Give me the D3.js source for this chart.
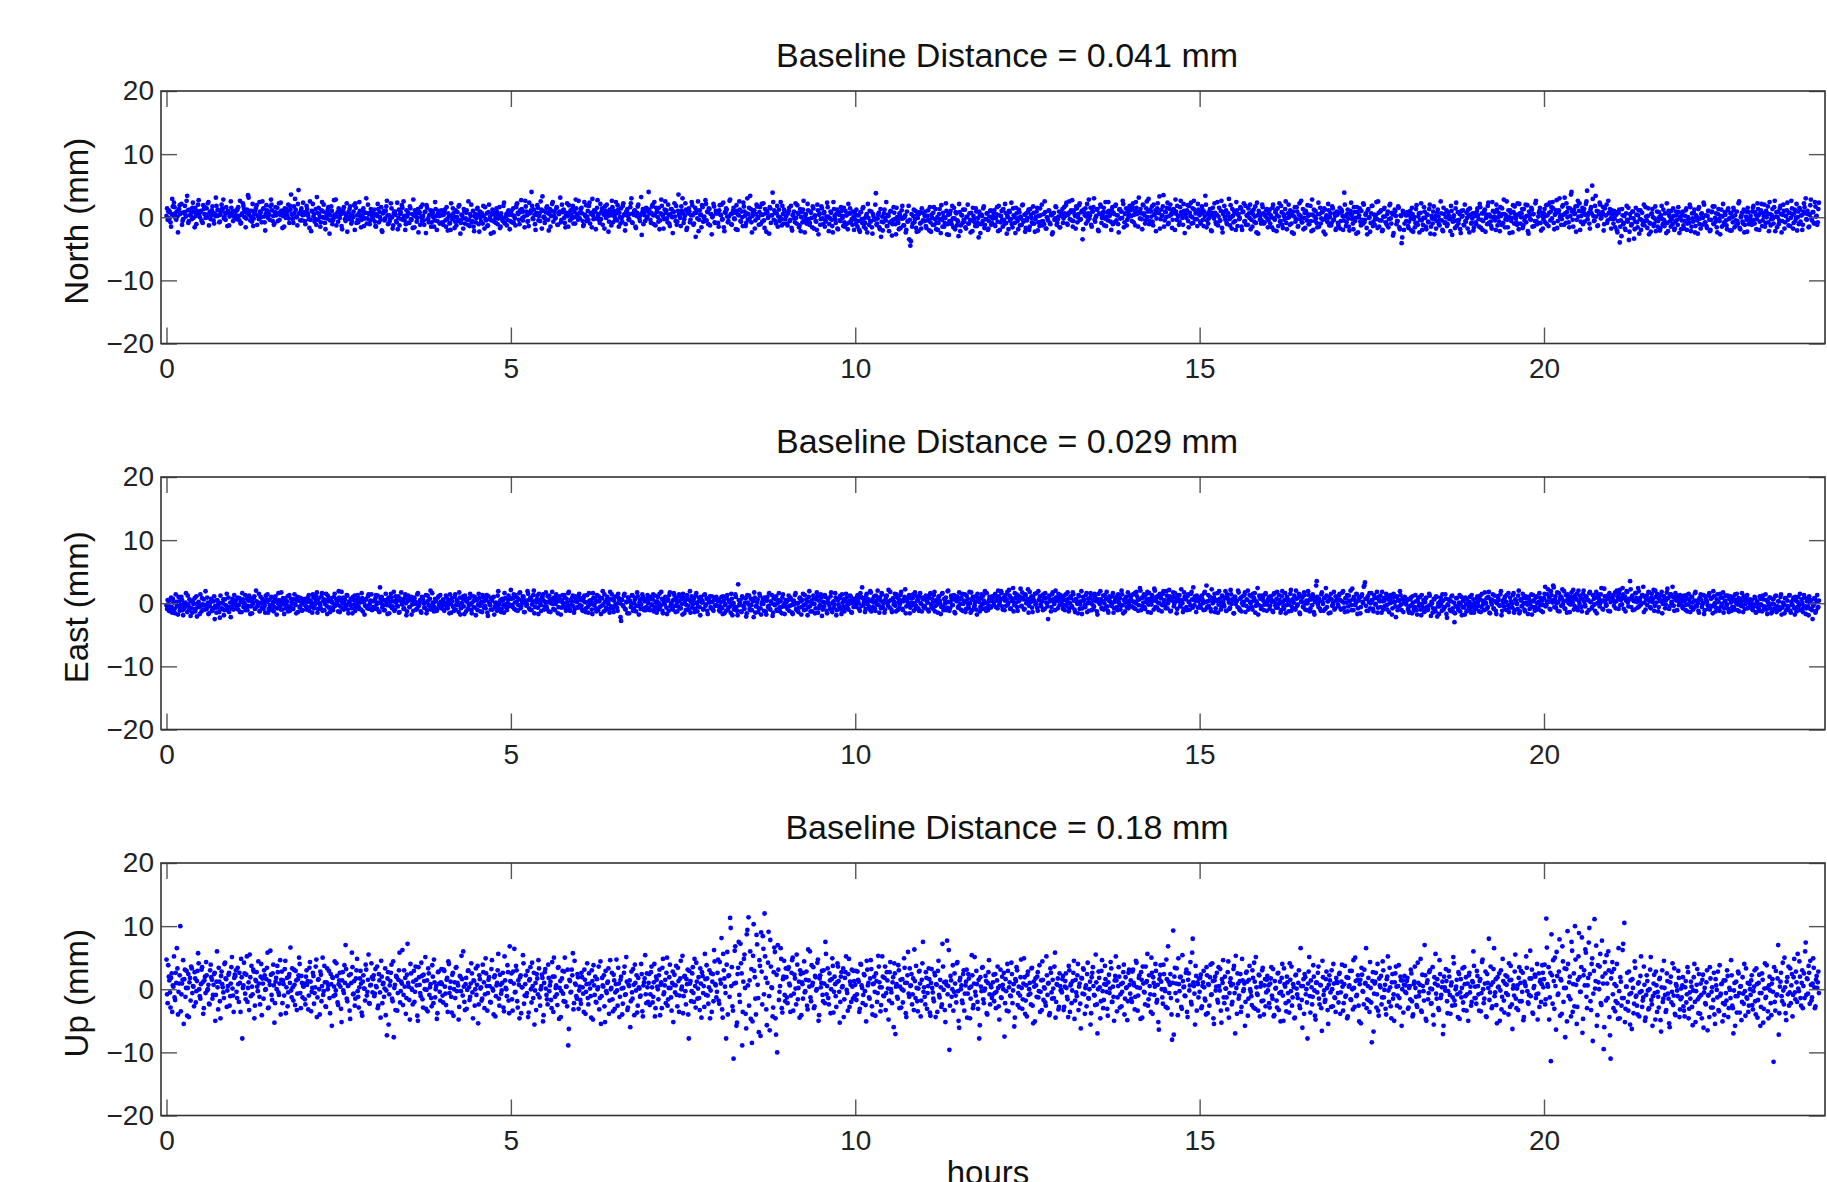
<!DOCTYPE html>
<html>
<head>
<meta charset="utf-8">
<script src="https://cdn.jsdelivr.net/npm/d3@7"></script>
<style>
body { margin: 0; background: #fff; }
svg { display: block; }
text { font-family: "Liberation Sans", Arial, Helvetica, sans-serif; }
</style>
</head>
<body>
<svg></svg>
<script>
// one row per hour, samples on the full minute, values in mm
const northMm = [
[0.2,-0.4,1.1,0.8,-1.5,2.9,0.3,1.6,-0.2,0.9,-2.4,1.3,0.5,2.1,-0.6,0.7,1.8,0.1,3.4,-0.9,1.2,0.4,-0.3,2.3,0.8,1.5,-1.1,0.6,2.7,0.0,1.0,-0.7,1.9,0.5,-0.1,1.4,2.2,-1.3,0.9,0.3,1.7,-0.5,0.6,3.1,0.2,1.1,-0.8,0.4,2.0,1.3,-0.2,0.7,1.6,-1.4,0.8,0.1,2.5,0.5,-0.6,1.0],
[0.9,-0.3,1.4,0.2,2.6,-0.9,0.6,1.8,0.0,-1.6,1.2,3.5,0.4,-0.5,1.0,2.1,-0.2,0.8,1.5,-1.2,0.3,2.4,0.7,-0.8,1.3,0.1,-2.1,1.9,0.5,0.9,-0.4,2.8,1.1,0.2,-1.0,1.6,0.6,-0.6,2.2,0.4,1.0,-1.7,0.8,1.4,-0.1,0.3,2.0,-0.9,1.2,0.5,-0.3,1.7,2.9,0.1,-1.3,4.3,0.6,1.0,-0.5,2.3],
[0.4,-1.1,1.8,0.6,-0.3,2.5,-2.2,0.9,0.1,-0.7,1.3,3.2,-0.4,0.5,-1.5,1.1,0.0,2.0,-0.9,0.7,-0.2,1.6,-2.6,0.3,1.0,-0.5,2.7,0.2,-1.3,0.8,1.4,-0.1,0.5,-1.9,1.2,0.6,-0.6,2.2,0.0,-0.3,1.7,-1.0,0.4,0.9,-2.0,1.5,0.3,-0.8,2.4,0.1,-0.4,1.0,-1.4,0.7,3.0,-0.2,0.6,-1.1,1.3,0.2],
[-0.3,1.2,-1.4,0.5,2.1,-0.8,0.0,1.6,-2.3,0.7,-0.5,1.0,2.6,-1.1,0.3,-0.2,1.4,-1.8,0.6,0.9,-0.6,2.3,-0.1,-1.3,0.8,1.9,-0.4,0.2,-2.0,1.1,0.4,-0.9,1.7,-0.3,0.5,2.8,-1.6,0.1,-0.7,1.3,0.6,-1.2,0.0,2.0,-0.5,0.8,-2.5,1.5,-0.2,0.3,1.1,-0.8,0.7,-1.5,2.4,0.2,-0.6,1.0,-1.0,0.4],
[0.3,-1.2,0.8,-0.5,1.6,-2.1,0.1,-0.9,2.2,-0.3,0.6,-1.7,1.1,0.0,-0.6,1.9,-2.6,0.4,-0.2,1.3,-1.0,0.7,-0.4,2.5,-1.4,0.2,-0.8,1.0,-2.2,0.5,-0.1,1.5,-1.1,0.9,-0.7,0.3,1.8,-1.8,-0.3,0.6,-1.3,2.0,0.1,-0.5,1.2,-2.4,0.4,-0.9,0.8,-0.2,1.6,-1.5,0.0,-0.6,2.3,-1.0,0.5,-0.4,1.1,-1.9],
[0.5,-0.8,1.4,0.2,-1.3,2.0,0.7,-0.4,1.1,2.7,-0.1,0.9,-1.6,1.7,0.3,-0.6,2.3,0.8,4.0,-0.2,1.2,-1.1,0.4,1.9,-0.5,0.6,2.5,-1.8,1.0,0.1,-0.3,1.5,0.7,-2.1,1.3,0.2,2.1,-0.7,0.9,-0.1,1.6,-1.2,0.5,3.1,-0.4,0.8,1.2,-0.9,0.3,2.2,-1.5,0.6,1.1,-0.2,1.8,0.0,-1.0,1.4,0.4,2.6],
[-0.2,1.3,0.6,-1.4,2.4,0.1,-0.6,1.0,1.8,-1.0,0.5,2.9,-0.3,0.8,-1.9,1.5,0.2,-0.5,2.1,0.9,-1.2,0.4,1.7,-0.1,0.7,-2.3,1.2,0.3,2.6,-0.8,1.0,-0.4,0.6,1.9,-1.5,0.0,1.4,-0.7,2.2,0.5,-1.1,0.9,0.2,-0.3,1.6,3.0,-0.9,0.4,1.1,-1.7,0.7,2.0,-0.2,0.3,-2.8,1.3,0.8,-0.6,1.5,0.1],
[4.0,0.6,-0.9,1.7,0.3,2.4,-1.3,0.8,0.0,1.5,-0.5,2.8,0.4,-1.8,1.2,0.7,-0.2,2.0,-1.0,0.5,1.3,-2.5,0.9,0.1,1.8,-0.7,3.6,0.2,-1.4,1.0,0.6,-0.3,2.2,-2.0,0.8,1.4,-0.8,0.3,1.9,-1.2,0.7,-3.1,1.1,2.5,-0.4,0.4,-1.6,1.6,0.0,-0.6,2.1,0.9,-1.1,1.3,0.5,-2.7,0.2,1.7,-0.9,0.6],
[0.8,-1.5,1.9,0.3,-0.4,2.3,-2.2,0.7,1.2,-0.8,0.1,2.8,-1.1,0.6,1.5,-0.3,-1.9,1.0,0.4,2.5,-0.6,0.9,-1.4,1.7,0.2,-0.9,3.0,0.5,-0.2,1.3,-2.4,0.8,1.1,-0.5,2.0,0.0,-1.2,1.6,0.4,-0.7,2.2,-1.7,0.6,1.0,-0.1,-2.6,1.4,0.3,3.9,-0.4,0.7,-1.0,1.8,0.1,-0.6,2.4,-1.3,0.5,1.2,-0.3],
[0.2,-1.3,1.0,-0.6,1.8,-2.1,0.4,-0.2,2.2,-1.0,0.7,-1.6,1.3,0.0,-0.8,2.6,-2.4,0.5,-0.4,1.1,-1.2,0.9,-0.1,1.7,-1.8,0.3,-0.7,2.0,-2.7,0.6,-0.3,1.4,-1.1,0.8,-0.5,0.1,1.6,-2.2,-0.2,0.7,-1.4,2.4,0.2,-0.9,1.2,-1.9,0.4,-0.6,1.0,-0.1,1.5,-1.5,0.3,-1.0,2.1,-0.8,0.6,-0.3,0.9,-2.0],
[-0.4,1.2,-1.5,0.3,-2.3,0.8,-0.9,1.6,-0.2,-1.8,0.5,2.1,-1.2,-0.6,0.9,-2.6,0.1,-0.3,3.8,-1.0,0.4,-1.6,1.3,-0.7,-2.1,0.6,-0.1,2.4,-1.4,0.2,-0.8,1.0,-2.9,-0.4,0.7,-1.1,1.5,-0.5,-1.9,0.3,-0.2,1.8,-1.3,0.0,-2.4,0.9,-0.6,-3.5,-4.5,0.5,-1.0,1.2,-0.3,-1.7,0.4,-2.2,0.8,-0.9,1.4,-0.5],
[-0.6,0.9,-1.7,0.2,-0.4,1.6,-2.3,-0.1,0.7,-1.2,1.3,-0.8,-2.0,0.5,-0.3,1.9,-1.5,0.1,-0.9,2.2,-2.7,0.4,-0.6,1.0,-1.1,-0.2,1.5,-1.9,0.6,-0.5,-3.0,0.8,-1.3,0.3,1.2,-0.7,-1.6,0.0,2.0,-1.0,-0.4,0.7,-2.2,0.2,-0.8,1.4,-1.4,-0.1,0.9,-2.5,0.4,-0.6,1.7,-1.2,-0.3,0.6,-1.8,0.1,1.1,-0.9],
[-0.2,1.1,-1.4,0.5,-0.7,1.8,-2.0,0.2,-0.4,1.3,-1.1,0.7,-2.6,0.0,1.0,-0.6,2.3,-1.6,0.3,-0.9,1.5,-0.2,-1.9,0.8,0.1,-1.2,2.0,-0.5,-2.3,0.6,-0.1,1.2,-1.5,0.4,-0.8,1.7,-1.0,-0.3,0.9,-2.1,0.2,1.4,-0.7,-1.3,0.5,2.5,-1.8,0.0,-0.5,1.0,-1.1,0.3,-2.4,0.7,-0.2,1.6,-0.9,0.1,-1.6,0.8],
[0.4,-0.9,1.6,0.2,2.3,-1.2,0.7,-0.3,1.1,2.7,-0.6,0.5,-1.8,1.4,0.0,1.9,-0.4,0.8,-3.5,1.2,0.3,-1.0,2.1,0.6,-0.2,1.5,-1.5,0.9,3.0,-0.7,0.2,1.3,-2.2,0.5,1.7,-0.1,0.8,-1.3,2.4,0.1,-0.5,1.0,0.4,-2.0,1.6,0.7,-0.8,2.0,0.3,-1.1,1.2,-0.2,0.9,2.6,-1.6,0.5,1.4,-0.4,0.0,1.8],
[1.1,-0.6,2.2,0.4,-1.3,1.5,0.8,3.1,-0.2,0.6,-1.9,1.9,0.3,-0.5,2.5,0.9,-1.1,1.2,0.1,-0.7,2.0,0.5,-2.2,1.4,0.7,3.3,-0.3,0.2,1.7,-1.5,0.9,0.0,2.3,-0.9,1.3,0.4,-1.7,1.0,0.6,2.8,-0.4,0.3,-1.2,1.6,0.8,-0.1,2.1,-2.5,0.5,1.1,-0.6,1.8,0.2,-1.0,1.4,2.6,-0.3,0.7,-1.4,1.2],
[0.3,-1.0,1.7,-0.4,0.9,3.4,-1.6,0.5,-0.2,1.3,-2.1,0.7,0.1,2.2,-0.8,0.4,-1.3,1.5,-0.5,2.6,-2.4,0.8,0.0,1.1,-1.1,0.6,-0.3,1.9,-1.8,0.2,1.0,-0.6,2.4,-1.4,0.5,-0.1,1.4,-2.0,0.9,-0.7,1.8,0.3,-1.2,0.6,2.0,-0.4,-1.5,1.2,0.1,-0.9,2.3,-2.6,0.7,0.2,-0.5,1.6,-1.0,0.4,1.1,-0.2],
[-0.5,1.2,0.3,-1.6,2.0,-0.2,0.8,-2.2,1.4,0.1,-0.7,1.8,-1.2,0.5,-0.4,2.5,-1.9,0.6,0.0,1.1,-1.0,0.3,-2.6,1.6,-0.3,0.9,-1.4,2.2,0.2,-0.8,1.3,-0.1,-1.7,0.7,1.9,-1.1,0.4,-0.6,2.8,-2.0,0.1,1.0,-0.9,0.5,-1.5,1.5,-0.2,0.8,-2.3,1.2,0.0,-0.5,2.1,-1.3,0.6,-0.9,1.4,-0.4,0.2,-1.8],
[0.4,-1.3,1.5,-0.6,0.9,-2.0,3.9,0.2,-0.8,1.2,-1.5,0.5,2.3,-0.3,-1.9,0.8,-0.1,1.6,-2.4,0.3,-0.7,1.0,-1.1,2.0,-0.4,0.6,-2.7,1.3,0.0,-0.9,1.8,-1.4,0.4,-0.2,2.4,-1.7,0.7,-0.5,1.1,-2.2,0.1,1.5,-0.8,-1.2,0.9,-0.3,2.1,-1.0,0.5,-2.5,1.2,0.2,-0.6,1.7,-1.6,0.3,-4.1,1.0,-2.0,0.6],
[-0.6,0.8,-1.7,0.3,-0.2,1.5,-2.3,0.0,-0.9,1.9,-1.2,0.6,-0.4,2.2,-2.0,-0.1,0.9,-1.5,0.4,-0.7,1.3,-2.6,0.2,-1.0,1.7,-0.3,-1.8,0.7,0.1,-1.3,2.5,-0.5,-2.2,0.5,-0.8,1.1,-1.1,0.3,-0.2,1.8,-2.8,0.0,-0.6,1.4,-1.4,0.8,-0.4,-1.9,1.0,0.2,-1.2,2.0,-0.7,-0.1,1.2,-2.4,0.4,-0.9,0.6,-1.6],
[0.2,-1.1,1.4,-0.3,2.1,-1.7,0.6,-0.6,1.0,-2.3,0.4,1.8,-0.9,0.1,-1.4,2.4,-0.2,0.8,-2.0,1.2,0.0,-0.7,1.6,-1.2,0.5,2.8,-1.6,0.3,-0.4,1.1,-2.5,0.7,-0.1,1.9,-1.0,0.4,-0.8,2.2,-1.9,0.6,0.0,1.3,-1.3,-0.5,2.0,0.2,-2.2,0.9,-0.3,1.5,-1.5,0.5,-0.6,2.6,-1.1,0.1,1.0,-0.9,0.7,-1.8],
[0.6,-0.8,1.9,0.3,-1.4,2.3,0.9,-0.2,1.4,-1.9,0.5,2.7,-0.6,1.1,0.0,-1.2,1.7,0.4,3.1,-0.9,0.8,1.5,-1.6,0.2,4.0,-0.4,1.2,0.6,-2.3,1.8,0.1,2.2,-0.7,0.9,-1.1,1.3,0.4,2.5,-0.3,0.7,-1.8,1.6,5.0,0.2,-0.5,3.4,1.0,-1.3,0.5,2.0,-0.1,0.8,-2.1,1.4,0.3,-0.9,2.6,0.6,-0.2,1.1],
[-0.3,1.0,-1.6,0.4,-2.4,0.7,-4.0,-0.5,1.3,-1.1,0.2,-2.0,1.8,-0.7,-3.6,0.5,-1.3,0.9,-0.2,-1.9,1.5,-0.8,0.3,-2.6,1.1,-0.4,-1.2,2.0,-0.6,0.1,-1.7,1.4,-0.9,-2.3,0.6,0.0,-1.0,1.7,-0.5,-1.5,0.8,-2.1,0.3,-0.3,1.2,-1.4,-0.8,2.2,-2.2,0.4,-0.6,1.0,-1.1,0.2,-1.8,0.9,-0.4,1.6,-2.5,0.1],
[-0.5,0.9,-1.8,0.2,1.4,-1.0,-0.3,2.0,-2.2,0.6,-0.7,1.2,-1.4,0.0,-2.6,1.6,-0.2,0.5,-1.2,2.3,-0.9,0.3,-1.7,1.0,-0.4,-2.0,0.8,1.7,-1.1,-0.1,0.6,-2.4,1.3,-0.6,0.2,-1.5,2.1,-0.8,0.4,-1.3,1.1,-0.3,-2.1,0.7,0.0,1.5,-1.6,-0.5,0.9,-1.0,2.5,-1.9,0.3,-0.7,1.2,-1.2,0.1,-2.3,0.8,-0.4],
[0.2,-1.2,1.5,-0.4,0.8,-1.9,2.2,0.3,-0.7,1.1,-1.4,0.6,2.0,-0.9,0.0,1.7,-2.2,0.5,-0.3,1.3,-1.0,2.6,0.1,-1.6,0.9,-0.5,1.8,-2.4,0.4,1.0,-0.8,0.2,2.3,-1.3,0.7,-0.1,1.4,-1.8,0.6,-0.6,2.1,0.0,-1.1,1.2,0.3,-2.0,0.9,1.6,3.0,-0.4,0.5,-1.5,1.9,-0.2,0.8,-0.9,2.4,0.1,-1.2,1.3]
];

// samples on the half minute
const northMmHalf = [
[1.4,0.9,-0.2,-0.8,0.5,1.7,2.3,0.6,-0.4,0.1,1.2,1.9,0.7,-1.2,-0.3,0.8,0.4,2.6,1.1,-0.6,0.3,0.9,1.5,-0.1,-1.6,0.2,1.0,2.0,0.5,0.8,-0.5,-0.9,1.3,1.6,0.4,0.0,2.4,0.7,-0.3,1.1,0.6,-1.0,0.2,1.8,1.2,0.3,-0.7,0.9,1.4,2.8,0.1,-0.4,0.6,1.0,-1.3,0.5,1.5,0.8,0.2,-0.2],
[0.3,1.1,1.6,-0.5,-1.0,0.4,2.2,1.3,0.8,-0.2,0.6,3.1,1.0,0.1,-0.7,-1.4,0.5,1.2,1.9,0.2,-0.3,0.9,0.0,2.5,1.4,-0.8,0.6,1.1,-0.1,0.4,1.7,2.0,-0.6,-1.2,0.8,0.3,1.5,0.7,-0.4,2.3,1.0,0.2,-1.5,0.5,1.3,0.9,-0.2,1.8,3.6,0.4,-0.9,0.7,1.2,0.0,2.1,0.6,-0.5,1.4,0.3,0.8],
[-0.6,0.8,1.3,0.2,-1.7,-0.4,1.0,2.1,0.5,-0.3,-1.2,0.7,1.5,0.0,-0.8,2.4,0.9,-0.1,-1.9,0.3,1.2,0.6,-0.5,1.7,-1.1,-0.2,0.4,2.8,0.1,-0.7,1.1,0.5,-1.4,0.9,1.6,-0.3,0.2,-2.3,0.8,1.3,0.4,-0.6,0.0,1.9,2.2,-0.9,-0.4,0.6,1.0,-1.6,0.3,1.4,-0.2,0.7,-1.0,2.0,0.5,-0.5,0.9,0.1],
[0.5,-0.7,-1.5,0.2,1.3,0.8,-0.4,-2.1,0.6,1.0,-0.2,1.7,0.3,-1.0,-0.6,2.2,0.0,-1.3,0.9,0.4,-0.8,-1.9,1.2,0.5,-0.3,1.5,2.5,-0.5,-1.1,0.1,0.7,-0.9,1.4,-0.4,-1.7,0.3,1.1,0.6,-0.1,-2.4,0.8,1.6,-0.6,0.2,-1.2,0.9,1.9,-0.3,-0.8,0.4,-1.5,1.0,0.0,-0.5,1.3,-2.0,0.6,0.2,-0.9,1.1],
[-0.8,0.4,1.2,-1.5,-0.3,0.6,-1.0,-2.0,0.2,1.4,0.0,-0.7,-1.3,0.8,1.7,-0.5,-0.9,0.3,-1.8,0.9,-0.2,1.1,-1.2,-0.4,0.5,2.0,-0.6,-1.5,0.1,-0.8,1.3,0.4,-2.3,-0.1,0.7,-1.0,0.2,1.6,-0.5,-1.4,0.8,-0.3,-2.6,0.5,1.0,-0.7,-0.2,1.4,-1.1,0.3,-1.7,0.6,-0.4,1.8,-0.9,0.0,-1.3,0.9,0.4,-0.6],
[1.0,0.3,-0.9,-0.2,1.6,2.2,0.5,-1.1,0.8,1.3,-0.5,0.1,2.6,0.9,-0.7,-1.4,0.6,1.1,1.8,-0.3,0.4,-2.0,0.7,1.5,0.2,-0.6,1.2,3.3,0.0,-0.9,0.8,1.7,-0.4,0.5,-1.5,1.0,2.4,0.3,-0.2,1.4,-1.2,0.6,0.9,-0.8,2.0,1.1,-0.1,-1.6,0.7,0.2,1.9,-0.5,0.4,1.3,-1.0,0.8,2.8,0.1,-0.4,0.6],
[0.8,1.5,-0.6,-1.2,0.4,1.9,0.1,-0.4,2.3,0.7,-1.6,0.3,1.1,0.9,-0.2,2.7,0.5,-0.9,-0.3,1.4,0.6,-1.8,1.0,2.0,0.2,-0.7,0.8,-1.3,1.6,0.4,0.0,2.4,-0.5,1.2,0.7,-1.0,-0.1,1.8,0.3,-2.1,0.9,1.3,-0.4,0.5,2.2,-0.8,0.6,1.0,-1.5,0.2,1.7,0.4,-0.6,3.2,0.8,-1.1,0.3,1.4,-0.2,0.9],
[1.2,-0.4,0.7,2.0,-1.1,0.3,1.5,0.9,-0.7,-1.9,0.6,1.8,0.2,-0.3,2.5,1.1,-0.8,0.4,-1.4,1.3,0.0,0.8,2.2,-0.6,-1.2,1.0,0.5,-0.1,1.7,3.0,-0.9,0.2,1.2,-1.7,0.6,0.9,-0.4,2.4,0.3,-1.0,1.5,0.7,-0.2,-2.2,1.1,0.4,1.9,-0.7,0.1,2.7,-0.5,0.8,1.4,-1.3,0.5,0.0,2.1,-0.8,1.0,0.6],
[-0.9,1.1,0.4,2.0,-0.3,-1.6,0.8,1.4,0.1,-0.6,2.6,0.5,-1.2,1.0,-0.2,0.7,1.9,-2.0,0.3,1.2,-0.7,0.0,2.3,0.9,-1.4,0.6,-0.4,1.5,3.4,-0.8,0.2,1.0,-1.8,0.5,1.7,-0.1,0.8,-1.1,2.1,0.4,-0.5,1.3,-2.3,0.7,0.1,1.6,-0.9,0.3,2.4,1.1,-0.6,0.6,-1.5,1.2,0.0,-0.3,1.8,-1.0,0.9,0.2],
[-1.0,0.6,1.5,-0.4,-1.7,0.3,0.9,-0.8,-0.1,1.9,0.5,-1.3,-2.2,0.8,1.2,-0.5,0.2,-1.0,2.1,-0.3,-0.9,0.7,-1.6,1.4,0.0,-0.6,-2.0,1.1,0.4,-1.2,1.7,-0.2,0.6,-1.5,-0.7,2.3,0.1,-1.1,0.9,-0.4,-2.4,1.3,-0.3,0.5,-1.8,0.8,-0.5,1.6,0.2,-1.4,-0.8,1.0,0.3,-1.9,0.6,1.4,-0.6,-1.2,0.0,0.7],
[-1.1,0.3,-0.6,-2.0,0.8,-0.3,1.4,-1.5,-0.9,0.2,-2.4,-0.1,1.0,-0.7,-1.6,0.5,-0.4,2.0,-1.2,-0.2,0.7,-1.9,-3.1,0.1,-0.8,1.2,-0.5,-1.4,0.4,-2.2,0.9,-0.6,-1.1,1.6,-0.3,-2.7,0.0,-0.9,0.6,-1.7,1.1,-0.2,-1.3,0.3,-2.0,-0.7,1.8,-0.4,-3.8,-1.5,0.2,-0.8,1.0,-2.3,-0.1,0.5,-1.0,-1.8,0.7,-0.6],
[0.2,-1.4,-0.5,1.1,-2.1,-0.8,0.4,-1.2,1.6,-0.3,-1.9,0.0,-0.9,1.3,-2.5,-0.4,0.7,-1.5,-0.1,1.0,-1.1,-2.8,0.5,-0.6,1.8,-1.6,-0.2,0.8,-1.3,-0.7,2.1,-2.2,0.3,-0.9,-0.4,1.2,-1.8,0.1,-1.0,0.6,-2.4,-0.5,1.5,-0.2,-1.4,0.9,-0.8,-3.2,0.4,-1.1,0.2,1.4,-1.7,-0.3,0.6,-2.0,-0.6,1.0,-1.2,0.0],
[0.5,-1.2,-0.1,1.6,-2.2,0.3,-0.8,1.0,-1.5,-0.4,2.1,-0.9,0.2,-1.9,0.8,-0.3,-1.1,1.4,0.0,-2.5,0.6,-0.6,1.2,-1.3,-0.2,1.9,-0.7,0.4,-1.7,-0.5,0.9,-2.0,1.3,-0.1,-1.0,0.7,-2.3,0.1,1.5,-0.8,-1.4,0.3,2.0,-0.6,-1.1,0.8,-1.8,-0.2,1.1,-0.9,0.4,-2.7,0.6,-0.4,1.7,-1.2,-0.3,0.9,-1.6,0.2],
[1.3,-0.2,0.6,1.9,-1.0,0.4,2.5,0.8,-0.5,-1.5,1.1,0.2,1.7,-0.8,0.5,2.2,-0.3,1.0,-1.9,0.7,1.4,0.1,-0.6,2.8,0.3,-1.2,0.9,1.6,-0.4,0.0,1.2,-2.0,0.6,2.0,-0.9,0.4,1.5,-0.2,-1.4,0.8,2.4,0.2,-0.7,1.1,-1.1,0.5,1.8,-0.5,0.3,-2.4,1.3,0.9,-0.1,2.1,-0.8,0.6,-1.3,1.0,0.4,1.6],
[0.2,1.6,-0.8,1.0,2.4,0.5,-1.5,0.8,1.3,-0.3,2.0,0.6,-1.0,1.4,0.0,2.9,-0.6,0.9,1.7,-1.3,0.4,1.1,-0.2,2.2,0.7,-1.8,1.2,0.3,3.5,-0.5,0.8,1.5,-1.1,0.2,2.0,0.6,-0.4,1.3,-2.0,0.9,1.8,0.1,-0.7,2.6,0.5,-1.2,1.0,0.4,-0.1,1.9,-1.6,0.7,2.3,0.0,-0.9,1.2,0.6,-0.3,2.1,0.8],
[-0.7,0.6,1.2,-1.4,0.2,2.0,-0.5,-1.0,0.9,0.3,-2.2,1.5,-0.2,0.7,-1.1,2.4,0.1,-0.6,1.0,-1.7,0.5,1.8,-0.4,-0.9,0.3,2.9,-1.3,0.0,1.3,-0.8,0.6,-2.0,1.1,0.4,-0.3,1.6,-1.5,0.8,2.2,-0.6,-1.2,0.2,1.4,-0.1,-1.9,0.9,0.5,-0.7,1.7,-2.4,0.3,1.0,-0.4,-1.0,2.0,0.6,-0.8,0.1,1.3,-1.6],
[0.6,-1.0,0.0,1.5,-2.0,-0.4,1.1,0.3,-1.4,2.2,-0.6,0.8,-1.7,0.2,1.3,-0.9,-0.1,2.0,-1.2,0.5,-2.4,0.9,0.1,-0.7,1.6,-1.5,0.4,-0.3,2.6,-0.8,-1.9,0.7,1.0,-0.5,0.2,-1.1,1.8,-2.2,0.4,1.2,-0.6,-0.2,-1.6,2.3,0.5,-1.0,0.8,-0.4,1.4,-2.7,0.3,-0.8,1.1,0.0,-1.3,1.7,-0.5,0.6,-2.0,0.9],
[-0.9,0.7,-1.8,1.2,0.2,-0.5,2.0,-1.4,0.5,-0.2,-2.1,1.0,0.3,-1.0,1.6,-0.6,-2.6,0.8,0.0,1.4,-1.3,-0.4,2.2,-0.8,0.4,-1.7,1.1,-0.1,-2.3,0.6,1.8,-0.7,-1.2,0.3,-0.3,2.5,-1.5,0.9,-0.5,-2.0,1.3,0.1,-0.9,0.5,-1.6,1.9,-0.2,0.7,-2.9,0.4,1.0,-1.1,-0.6,1.5,-1.9,0.2,-3.2,0.8,-1.0,0.3],
[0.3,-1.4,-0.7,1.0,-2.1,0.5,-0.3,-1.6,1.3,-0.9,0.1,-2.4,0.7,-0.5,-1.2,1.6,-0.1,-1.9,0.4,-0.8,2.0,-1.5,-0.2,0.9,-2.7,0.2,-0.6,1.2,-1.1,-0.4,0.6,-2.0,1.5,-0.9,0.0,-1.4,0.8,-0.3,-2.2,1.0,-0.7,0.3,-1.7,2.3,-0.5,-1.0,0.5,-2.5,0.1,1.1,-1.3,-0.6,0.7,-1.8,0.2,1.4,-1.0,-0.2,-2.1,0.6],
[-0.8,0.9,0.3,-1.5,1.6,-0.4,-2.0,0.6,1.2,-0.1,-1.1,2.3,0.4,-0.7,-1.8,1.0,0.1,-0.5,2.0,-1.3,0.7,-2.2,0.2,1.4,-0.9,0.5,-0.3,2.5,-1.6,0.0,1.1,-0.6,-2.4,0.8,1.7,-0.2,-1.2,0.4,2.1,-1.0,0.6,-1.7,1.3,0.0,-0.8,1.9,-2.6,0.3,-0.4,1.2,0.5,-1.4,2.2,-0.6,-1.0,0.7,1.5,-2.1,0.2,-0.3],
[1.3,0.2,-1.1,2.0,0.7,-0.5,1.6,2.4,-0.9,0.4,1.1,-1.7,0.8,3.0,0.3,-0.3,1.9,-1.2,0.6,2.2,0.0,-0.8,1.4,3.6,0.9,-1.5,0.5,1.7,-0.4,2.6,1.0,-2.0,0.2,1.5,0.8,-0.7,2.1,4.2,0.4,-1.0,1.2,0.6,2.9,-0.6,1.8,0.1,-1.4,0.9,2.3,-0.2,0.5,1.6,-1.1,0.3,2.0,-0.5,0.7,1.3,-1.8,0.4],
[-1.0,-0.2,0.8,-2.1,-0.6,1.2,-1.5,-3.0,0.3,-0.9,-1.8,0.6,-0.4,1.5,-2.3,-0.1,-1.1,0.9,-3.4,-0.7,0.4,-1.6,1.1,-0.3,-2.0,0.7,-0.8,-1.3,1.6,-0.5,0.2,-2.7,-1.0,0.5,1.3,-1.4,-0.2,-2.2,0.9,-0.6,0.0,-1.7,1.8,-1.1,-0.4,0.6,-2.5,-0.9,1.0,0.1,-1.5,-0.3,1.4,-2.0,-0.7,0.3,-1.2,0.8,-0.1,-1.9],
[0.4,-1.3,-0.6,1.1,-2.0,0.0,-0.9,1.6,-1.5,-0.2,0.7,-2.4,0.3,-0.5,1.3,-1.1,-1.8,0.6,-0.1,2.0,-0.8,-1.4,0.2,1.0,-2.2,-0.4,0.9,-1.0,1.7,-0.7,-1.6,0.5,-0.3,-2.7,1.2,0.1,-1.2,0.8,-0.5,-1.9,1.4,-0.2,0.6,-2.1,-0.8,1.1,0.3,-1.3,-0.6,2.2,-1.7,0.0,0.7,-1.0,-2.4,0.9,-0.4,1.5,-1.1,-0.2],
[-0.6,0.9,1.8,-1.0,0.4,-0.3,1.3,-2.0,0.7,2.1,-0.5,0.1,-1.5,1.0,0.6,-0.8,2.4,-1.3,0.3,-0.2,1.6,-2.2,0.8,0.0,-1.1,1.4,0.5,-0.6,2.0,-1.8,0.2,1.1,-0.4,0.7,-1.4,2.6,0.4,-0.9,1.2,-0.1,-2.1,0.9,1.5,-0.7,0.3,-1.2,2.2,0.6,-0.3,1.0,-1.6,0.4,2.8,-0.5,0.8,-1.0,1.7,0.2,-0.8,2.3]
];

const eastMm = [
[-0.3,0.5,-1.2,-0.6,0.9,-1.5,0.1,-0.9,1.4,-0.4,-1.8,0.3,-0.7,1.0,-1.1,0.0,-0.5,1.6,-1.4,-0.2,0.6,-2.0,-0.8,0.4,-0.1,-1.3,1.1,-0.6,0.2,-1.7,-0.4,0.8,-1.0,-0.3,1.9,-0.9,0.1,-1.6,-0.5,0.7,-1.2,0.3,-2.5,-0.7,0.5,-0.2,-1.4,1.2,-0.8,0.0,-1.9,0.6,-0.4,-1.1,0.9,-0.6,-2.2,0.2,-0.3,1.3],
[0.2,-0.8,0.9,-0.3,-1.4,0.5,1.6,-0.6,0.0,-1.1,0.7,-0.4,1.2,-1.7,0.3,-0.2,0.8,-0.9,2.0,-0.5,0.1,-1.3,1.0,-0.7,0.4,-0.1,-1.5,0.6,1.4,-0.9,-0.3,0.9,-1.1,0.2,-0.6,1.1,-1.8,0.0,0.5,-0.4,1.7,-1.0,-0.2,0.7,-0.8,0.3,-1.3,1.3,-0.5,0.1,-0.9,0.6,-0.1,-1.6,1.0,0.4,-0.7,0.8,-1.2,0.2],
[-0.2,0.7,-1.0,0.4,1.3,-0.6,0.1,-1.5,0.9,-0.3,0.5,1.7,-0.9,0.0,-0.4,1.1,-1.2,0.6,-0.1,1.5,-1.7,0.3,0.8,-0.7,0.2,-1.1,1.0,-0.4,0.6,-0.2,1.9,-1.4,0.4,-0.8,0.9,0.0,-0.5,1.3,-1.0,0.2,-0.3,0.7,-1.6,0.5,1.2,-0.6,-0.1,0.8,-0.9,0.3,1.6,-1.3,0.1,-0.4,0.6,-0.8,1.4,-0.2,0.4,-1.1],
[0.3,-0.9,0.8,-0.2,1.2,-1.3,2.5,0.0,-0.7,0.5,-1.1,1.5,-0.3,0.6,-1.6,0.2,0.9,-0.5,1.8,-1.0,0.1,-0.4,1.1,-1.4,0.7,-0.1,0.4,-0.8,1.4,-1.9,0.3,0.6,-0.6,1.0,-0.2,-1.2,0.8,0.2,-0.9,1.6,-0.3,0.5,-1.5,0.9,0.0,-0.7,1.3,-1.1,0.4,-0.4,2.0,-0.6,0.1,-1.3,0.7,0.3,-0.9,1.1,-0.5,0.2],
[-0.4,0.6,-1.2,0.1,0.9,-0.8,-0.2,1.4,-1.5,0.3,-0.6,1.0,-1.0,0.5,-0.3,1.7,-1.8,0.0,0.7,-0.5,1.2,-1.3,0.2,-0.9,0.8,-0.1,-1.6,1.1,0.4,-0.7,0.6,-1.1,1.5,-0.4,0.0,-1.4,0.9,0.3,-0.8,1.3,-2.0,0.2,-0.3,0.7,-1.0,1.0,-0.6,0.1,-1.2,1.9,-0.2,0.5,-0.9,0.4,-1.5,0.8,-0.1,-0.6,1.2,-0.4],
[2.1,-0.3,0.8,-0.9,1.3,0.2,-1.2,0.6,1.7,-0.5,0.0,1.0,-1.4,0.4,-0.2,1.5,-0.8,0.9,-1.1,0.3,2.0,-0.6,0.1,1.2,-1.7,0.5,-0.3,0.8,1.4,-1.0,0.2,-0.5,1.1,-1.3,0.7,0.0,1.8,-0.9,0.4,-0.1,1.0,-1.6,0.6,0.3,-0.7,1.3,-0.4,0.9,-1.2,0.1,1.6,-0.8,0.5,-0.2,1.2,-1.5,0.3,0.7,-0.6,1.0],
[-0.3,0.8,-1.0,0.4,1.2,-1.4,0.1,-0.6,1.6,-0.2,0.5,-1.7,0.9,0.0,-0.8,1.3,-1.1,0.3,0.7,-0.4,1.9,-1.3,0.2,-0.7,1.0,-0.1,-1.5,0.6,1.4,-0.9,0.4,-0.3,1.1,-1.2,0.8,0.0,-2.8,0.5,-0.5,1.5,-1.0,0.2,0.9,-1.6,0.3,-0.2,1.2,-0.8,0.6,-1.3,1.7,-0.4,0.1,-0.9,0.7,1.0,-1.1,0.4,-0.6,1.3],
[0.5,-1.1,0.7,-0.3,1.4,-0.9,0.2,-1.5,1.0,0.0,-0.6,1.8,-1.2,0.4,-0.2,0.9,-1.7,0.6,1.3,-0.5,0.1,-1.0,1.6,-0.4,0.8,-1.3,0.3,1.1,-0.8,-0.1,1.5,-1.6,0.5,-0.3,0.7,-1.1,1.9,0.2,-0.7,0.4,-1.4,1.2,0.0,-0.5,0.9,-1.9,0.6,0.3,-0.9,1.4,-0.2,-1.2,0.8,0.1,-0.6,1.1,-1.0,0.5,-0.4,1.0],
[-0.4,0.6,-1.3,0.2,-0.8,1.1,-1.6,-0.1,0.8,-1.0,0.4,-0.5,1.5,-1.9,0.0,-0.7,1.0,-1.2,3.0,-0.3,0.5,-1.4,0.9,-0.6,0.1,-2.1,1.3,-0.2,-0.9,0.7,-1.1,0.3,1.7,-1.5,-0.4,0.6,-0.8,1.2,-1.8,0.2,-0.1,0.9,-1.3,0.4,-0.6,1.6,-1.0,0.0,-2.0,0.8,-0.3,1.1,-1.2,0.5,-0.7,0.3,-1.6,1.4,-0.5,0.1],
[0.1,-0.9,1.2,-0.4,0.6,-1.5,0.3,-0.2,1.6,-1.1,0.0,-0.7,0.9,-1.8,0.5,-0.3,1.3,-1.0,0.2,-0.6,1.9,-1.3,0.4,-0.1,0.8,-1.6,0.6,1.1,-0.8,-0.4,1.4,-2.0,0.2,-0.5,1.0,-1.2,0.7,0.0,-0.9,1.7,-1.4,0.3,-0.2,0.9,-1.1,0.5,-0.6,1.2,-1.7,0.1,0.6,-0.8,1.5,-0.3,-1.0,0.4,1.1,-1.5,0.0,0.7],
[0.4,-0.6,1.3,0.0,-1.2,1.0,2.5,-0.3,0.7,-0.9,1.5,0.2,-0.5,1.9,-1.3,0.6,0.1,-0.8,1.2,-0.2,0.9,-1.5,0.4,1.6,-0.6,0.3,-1.0,1.1,0.0,2.1,-0.7,0.5,-1.4,0.8,0.2,-0.4,1.4,-1.1,0.6,-0.1,1.8,-0.9,0.3,1.0,-1.6,0.5,-0.2,1.3,-0.7,0.1,0.8,-1.2,1.7,-0.4,0.4,-0.8,1.1,0.0,-1.3,0.9],
[0.6,-0.8,1.0,0.1,-1.3,1.4,-0.2,0.7,-0.9,1.8,-0.4,0.3,-1.5,1.1,0.0,-0.6,1.6,-1.1,0.5,0.9,-0.7,2.0,-1.2,0.2,0.8,-0.3,1.3,-1.6,0.4,1.0,-0.5,0.6,-1.0,1.5,-0.1,0.3,-1.4,1.2,0.7,-0.8,0.0,1.7,-1.1,0.5,-0.3,1.1,-1.8,0.8,0.2,-0.6,1.4,-0.9,0.4,1.9,-1.2,0.1,-0.4,1.0,-0.7,0.6],
[0.9,-0.3,1.5,0.4,-0.8,1.1,0.2,1.9,-0.5,0.7,-1.1,1.3,0.6,-0.2,2.1,-0.9,0.8,0.3,-1.3,1.6,0.1,-0.6,1.2,0.5,2.3,-0.4,0.9,-1.0,1.4,0.0,0.7,-1.5,1.8,0.2,-0.7,1.0,0.4,-0.2,1.6,-1.2,0.6,1.1,-0.5,0.3,1.4,-0.9,0.8,0.0,-2.5,1.2,0.5,-0.6,1.7,0.1,-1.1,0.9,0.4,1.5,-0.3,0.7],
[0.3,-0.9,1.2,0.5,-0.4,1.7,-1.3,0.0,0.8,-0.6,1.4,-1.0,0.6,0.2,-1.6,1.1,-0.2,1.9,-0.8,0.4,-0.3,1.3,-1.4,0.7,0.1,1.6,-1.1,0.5,-0.5,1.0,0.3,-1.8,1.5,-0.1,0.6,-0.9,1.2,0.0,-0.7,1.8,-1.2,0.4,0.9,-0.4,1.1,-1.5,0.2,0.7,-0.6,1.4,0.0,-1.0,2.0,-0.3,0.5,-1.3,1.0,0.3,-0.8,1.2],
[0.7,-0.5,1.4,0.2,-0.9,1.8,0.5,-0.3,2.4,-1.1,0.9,0.1,-0.6,1.3,0.6,-1.4,1.6,0.3,-0.2,1.0,-1.0,2.0,0.4,-0.7,1.2,0.0,0.8,-1.3,1.5,0.2,-0.4,1.9,-0.8,0.6,1.1,-1.2,0.4,1.7,-0.1,0.9,-1.6,1.3,0.3,-0.5,2.2,0.0,-0.9,1.0,0.6,-1.1,1.4,0.2,-0.3,1.8,-0.7,0.5,1.1,-1.4,0.8,0.3],
[0.5,-0.7,1.2,0.0,1.6,-1.0,2.8,0.3,-0.4,1.0,-1.3,0.7,0.2,1.5,-0.8,0.4,-1.5,1.9,0.1,-0.5,1.1,-0.2,0.8,-1.2,1.4,0.6,-0.9,2.1,-0.1,0.5,-1.6,1.0,0.3,-0.6,1.7,-1.1,0.9,0.0,-0.3,1.3,-1.4,0.6,2.0,-0.7,0.2,1.1,-1.0,0.4,1.6,-0.4,0.0,-1.8,1.2,0.7,-0.5,0.9,-1.1,1.4,0.1,-0.2],
[0.4,-0.9,1.1,0.2,-1.4,1.6,-0.3,0.7,-0.7,1.3,0.0,-1.1,1.9,-0.5,0.5,-1.6,1.0,0.3,-0.2,1.5,-1.2,0.6,0.1,-0.8,2.0,-0.4,0.9,-1.5,1.2,0.2,-0.6,1.7,-1.0,0.4,0.0,1.3,-1.3,0.8,-0.3,1.1,-1.8,0.5,3.5,-0.1,0.7,-0.9,1.4,0.2,-1.2,0.9,2.4,-0.6,0.3,1.0,-1.5,0.6,-0.2,1.8,-0.8,0.4],
[0.6,-0.5,1.5,-1.0,0.3,1.9,-0.7,0.8,0.1,-1.3,1.2,0.4,-0.3,2.3,-1.1,0.6,0.0,1.4,-0.8,0.9,-1.6,1.1,0.2,2.6,3.3,-0.4,0.7,-1.2,1.6,0.0,0.5,-0.9,1.3,-0.2,0.8,-1.5,1.0,0.3,-0.6,1.8,-1.0,0.4,0.9,-0.3,1.2,-1.4,0.6,0.1,-0.8,1.5,0.2,-2.2,1.0,0.5,-0.5,1.3,-1.1,0.7,0.0,0.9],
[-0.2,0.6,-1.2,-0.5,0.9,-1.6,0.1,-0.8,1.3,-1.1,0.3,-0.4,1.0,-1.9,-0.1,0.5,-1.3,0.8,-0.6,-1.0,1.5,-0.3,0.2,-1.5,0.7,-0.9,1.1,-2.1,0.0,-0.5,0.9,-1.2,0.4,-0.7,1.4,-1.7,-0.2,0.6,-1.0,0.3,1.2,-1.4,-3.0,-0.4,0.8,-0.8,0.1,-1.3,1.0,-0.6,0.5,-1.8,-0.1,0.7,-1.1,0.2,-0.9,1.3,-0.4,-1.5],
[0.1,-0.9,1.1,-0.4,0.6,-1.4,1.5,-0.2,0.3,-1.0,0.8,-0.6,1.8,-1.6,0.2,0.5,-0.8,1.2,-1.2,0.0,0.9,-0.3,1.4,-1.9,0.4,-0.5,1.0,0.2,-1.1,1.6,-0.7,0.3,-0.1,1.3,-1.5,0.6,0.0,-0.9,2.0,-1.3,0.4,-0.4,0.8,-1.0,1.1,0.1,-1.7,0.7,-0.2,1.4,-0.6,0.3,-1.2,0.9,0.0,-0.8,1.6,-0.3,0.5,-1.4],
[0.8,2.6,-0.3,1.4,0.2,-0.9,1.9,0.5,2.8,-0.6,1.1,0.0,-1.2,1.6,0.7,-0.4,2.2,0.3,-0.8,1.3,-1.5,0.9,0.4,-0.2,1.7,0.1,-1.0,1.2,0.6,-0.7,2.0,-0.1,0.8,-1.3,1.5,0.3,-0.5,1.0,0.5,-1.1,1.8,0.2,-0.6,1.3,-0.2,0.9,-1.6,1.4,0.6,0.0,2.4,-0.9,0.4,1.1,-0.4,0.7,-1.2,1.6,0.2,0.9],
[0.6,-0.4,1.7,0.3,1.1,-0.9,2.1,0.5,-0.2,1.4,0.8,-1.3,1.9,0.1,0.7,3.5,-0.6,1.2,0.4,-1.0,1.6,0.2,2.4,-0.5,0.9,0.0,1.3,-1.4,1.0,0.6,-0.3,1.8,0.3,-0.8,1.5,0.7,-1.2,2.0,0.1,0.9,-0.6,1.3,0.4,-1.6,1.1,0.5,-0.2,1.7,0.8,-0.9,1.4,0.2,2.6,-0.4,0.6,1.2,-1.1,0.9,0.3,-0.1],
[0.3,-0.8,1.2,-0.3,0.7,-1.3,1.5,0.1,-0.6,1.0,-1.0,0.4,1.8,-0.5,0.0,-1.5,0.9,0.5,-0.2,1.3,-1.1,0.6,0.2,-0.9,1.6,-0.4,0.8,-1.6,1.1,0.0,-0.7,1.4,0.3,-1.2,0.9,-0.1,1.7,-0.8,0.4,-0.3,1.2,-1.4,0.6,0.1,-0.6,1.0,-1.0,0.5,1.5,-0.2,-1.3,0.7,0.2,-0.5,1.1,-0.9,0.4,1.3,-0.7,0.0],
[-0.3,0.5,-1.1,-0.5,0.8,-1.4,0.0,-0.8,1.1,-0.2,-1.3,0.6,-0.7,1.4,-1.0,0.2,-0.4,0.9,-1.6,-0.1,0.7,-0.9,1.2,-1.2,0.3,-0.6,1.0,-1.8,0.1,-0.3,0.8,-1.1,0.4,-0.5,1.3,-1.5,-0.2,0.6,-0.8,1.0,-1.3,0.2,-0.4,1.5,-1.0,0.0,-0.7,0.9,-1.7,0.3,-0.5,1.1,-0.9,0.5,-2.5,-0.2,0.7,-1.2,1.3,-0.6]
];

const eastMmHalf = [
[-0.9,-0.2,0.4,-1.3,-0.6,0.7,-1.0,-1.6,0.2,-0.5,1.0,-1.2,-0.3,0.5,-1.9,-0.8,0.1,-0.4,1.2,-1.1,-0.7,0.3,-1.5,-0.1,0.8,-0.9,-2.1,0.0,-0.6,1.4,-1.3,-0.2,0.6,-1.0,-0.5,0.9,-1.7,-0.3,0.2,-1.2,-0.8,1.1,-0.4,-1.5,0.4,-0.7,-2.3,0.0,-0.9,0.6,-1.1,-0.3,1.5,-0.6,-1.4,0.1,-0.8,0.7,-1.0,-0.2],
[0.5,-0.3,-1.0,0.8,0.2,-1.4,0.6,-0.2,1.3,-0.7,-1.1,0.4,0.9,-0.5,-1.6,0.1,1.1,-0.8,0.3,-0.3,1.5,-1.2,0.0,0.7,-0.9,-0.4,1.2,0.2,-1.5,0.5,-0.6,1.0,-0.1,-1.3,0.6,0.3,-0.8,1.6,-0.4,-1.0,0.2,0.8,-1.7,0.4,-0.2,1.1,-0.6,-1.2,0.7,0.0,-0.9,1.4,-0.3,0.5,-1.4,0.9,-0.5,0.1,-1.1,0.6],
[0.6,-0.5,0.2,1.0,-1.2,0.4,-0.3,1.4,-0.8,0.0,1.1,-1.5,0.7,-0.1,-0.9,1.6,0.3,-1.1,0.5,-0.4,1.2,-0.7,-1.4,0.8,0.1,-0.6,1.5,-0.2,0.4,-1.3,0.9,-0.5,1.8,0.0,-1.0,0.6,-0.3,1.2,-1.6,0.2,0.7,-0.8,1.0,-0.2,-1.2,0.5,1.3,-0.6,0.1,-1.0,0.8,0.3,-1.8,0.6,-0.4,1.1,-0.9,0.2,1.4,-0.7],
[-0.6,0.4,1.3,-0.9,0.1,-1.4,0.7,1.0,-0.3,-1.1,0.5,0.2,-1.7,0.9,-0.4,1.5,-0.8,0.3,-1.2,1.1,0.6,-0.5,-1.5,0.4,1.7,-0.2,-0.9,0.8,0.0,-1.3,1.2,-0.6,0.5,-1.8,0.3,0.9,-0.1,-1.0,1.4,-0.5,0.2,-1.3,1.0,0.6,-0.7,0.1,-1.6,1.2,-0.3,0.7,-1.0,1.6,0.0,-0.6,0.4,-1.2,0.9,-0.2,1.3,-0.8],
[0.2,-1.0,-0.3,1.2,-0.7,0.5,-1.6,0.0,0.8,-0.5,-1.2,1.4,-0.2,0.3,-1.4,0.9,-0.8,-0.1,1.1,-1.7,0.4,0.7,-0.9,-0.3,1.5,-1.1,0.1,-0.6,1.0,-1.9,0.5,-0.2,0.8,-1.3,0.2,1.3,-0.7,-0.4,0.6,-1.5,1.1,-0.1,-1.0,0.4,0.9,-1.8,0.0,-0.5,1.2,-0.9,0.3,-1.4,0.7,-0.3,1.6,-0.6,-1.1,0.5,-0.2,0.8],
[0.7,-0.6,1.4,0.1,-1.1,0.9,-0.3,1.6,-0.8,0.4,1.1,-1.4,0.2,-0.4,1.9,0.5,-1.0,0.8,-0.2,1.3,-1.6,0.3,0.6,-0.7,1.5,0.0,-1.2,1.0,0.4,-0.5,1.7,-0.9,0.2,1.2,-1.4,0.6,-0.1,0.9,-1.1,1.4,0.3,-0.6,1.1,-1.8,0.5,0.0,1.3,-0.8,0.7,-0.3,1.8,-1.2,0.4,0.9,-0.5,-1.0,1.1,0.2,-0.7,1.5],
[0.5,-0.4,-1.2,0.9,0.2,-0.8,1.3,-1.5,0.4,0.0,-1.0,1.6,-0.3,0.7,-1.3,0.3,1.1,-0.6,-1.7,0.8,-0.2,1.4,-1.1,0.5,0.1,-0.9,1.8,-0.5,0.6,-1.4,1.0,-0.1,-0.7,1.5,0.3,-2.2,0.6,-0.3,1.2,-0.9,0.2,-1.6,0.9,0.4,-0.6,1.3,-1.2,0.0,0.8,-0.4,1.1,-1.8,0.5,-0.2,1.4,-0.8,0.3,-1.1,0.7,0.0],
[-0.8,1.0,-0.2,0.6,-1.3,1.2,-0.5,0.3,-1.0,1.5,-0.3,0.7,-1.6,0.1,1.0,-0.7,0.4,-1.2,1.7,-0.1,-0.9,0.5,1.2,-1.4,0.2,-0.5,1.4,-0.8,0.6,-1.8,0.9,0.0,-1.1,1.3,-0.4,0.5,-1.5,1.1,-0.2,0.8,-0.9,1.6,-1.3,0.3,-0.6,1.0,0.1,-1.0,1.3,-0.4,0.7,-1.7,0.4,1.1,-0.8,0.2,-1.2,0.9,-0.3,0.5],
[0.3,-1.1,-0.5,1.0,-1.7,0.4,-0.3,-1.2,1.3,-0.7,0.2,-1.5,0.7,-0.2,-1.0,1.4,-0.6,-1.9,0.5,0.0,-1.3,1.1,-0.4,-0.9,0.8,-1.6,0.1,1.2,-1.1,-0.3,0.6,-2.2,0.9,-0.5,0.2,-1.4,1.5,-0.8,-0.1,0.7,-1.2,0.4,-1.8,1.0,-0.4,-0.9,0.3,1.3,-1.5,-0.2,0.6,-1.0,0.0,1.6,-1.3,-0.6,0.9,-0.3,-1.7,0.5],
[-0.6,0.5,-1.2,0.9,-0.3,-1.7,0.4,1.3,-0.9,0.0,-1.4,0.8,0.3,-0.6,1.5,-1.1,-0.2,0.6,-1.9,1.0,-0.5,0.2,-1.3,1.2,-0.1,-0.8,1.7,-1.5,0.4,-0.3,0.9,-1.0,-0.6,1.3,0.1,-1.6,0.7,-0.4,1.1,-1.2,0.0,-0.7,1.6,-1.9,0.5,-0.2,0.8,-1.0,1.4,-0.5,-1.3,0.3,0.9,-0.8,-0.1,1.2,-1.4,0.6,-0.6,0.2],
[-0.2,1.0,0.5,-0.9,1.6,-0.4,0.8,0.2,-1.4,1.2,-0.1,0.6,-1.0,1.7,0.3,-0.6,1.1,-1.2,0.4,2.0,-0.3,0.9,-0.8,1.4,0.0,-1.5,0.7,1.2,-0.4,0.3,1.8,-1.0,0.5,-0.2,1.5,-1.3,0.9,0.1,-0.7,1.3,0.4,-1.1,0.6,2.2,-0.5,0.2,1.0,-1.6,0.8,-0.3,1.4,0.0,-0.9,1.1,0.5,-1.2,1.6,-0.1,0.7,-0.6],
[-0.4,1.2,0.3,-1.0,0.8,1.6,-0.6,0.1,1.3,-1.3,0.5,-0.2,1.0,0.4,-1.7,1.5,-0.5,0.7,0.0,-1.1,1.9,0.2,-0.8,1.2,-0.3,0.6,-1.4,1.1,0.3,-0.7,1.7,-0.1,0.9,-1.2,0.4,1.4,-0.9,0.1,-0.4,1.8,-1.5,0.6,1.0,-0.6,0.2,-1.0,1.5,0.4,-1.3,0.8,-0.2,1.2,0.0,-0.8,1.6,-1.1,0.5,0.3,-0.5,1.1],
[0.2,1.3,-0.6,1.0,2.0,-0.2,0.6,1.6,-1.0,0.9,0.4,-0.4,1.8,0.1,1.2,-0.8,0.5,2.4,-0.3,0.8,1.4,-1.2,0.3,1.0,-0.5,1.7,0.6,-0.9,1.3,0.2,2.2,-0.4,0.7,1.1,-1.4,0.4,1.5,0.0,-0.7,1.9,0.5,-0.2,1.2,-1.1,0.8,1.6,0.1,-0.5,1.0,0.3,-1.3,1.4,0.6,-0.1,2.0,0.9,-0.8,0.4,1.3,-0.3],
[0.9,-0.3,-1.1,1.4,0.2,0.7,-0.8,1.1,-0.4,1.7,0.4,-1.4,0.6,-0.1,1.3,-0.9,0.3,-1.7,1.0,0.5,-0.6,1.6,0.0,-1.2,0.8,1.2,-0.2,-0.9,1.5,0.4,-1.3,0.6,0.1,1.9,-0.7,0.3,-1.0,1.3,0.7,-0.5,-1.5,1.1,0.2,-0.3,1.6,-0.8,0.5,1.0,-1.1,0.2,0.8,-0.4,1.4,-1.6,0.6,0.1,-0.6,1.7,-0.2,0.4],
[1.2,0.3,-0.7,1.6,0.0,1.1,-1.2,0.6,2.0,-0.4,0.9,1.4,-0.9,0.2,1.8,-0.2,0.7,-1.5,1.3,0.4,2.3,-0.6,1.0,0.1,-1.1,1.5,0.8,-0.3,1.9,0.5,-0.8,1.2,0.0,2.1,-1.3,0.6,1.0,-0.5,1.6,0.3,-0.9,0.8,1.3,-0.2,0.5,-1.4,1.7,0.9,-0.6,1.1,0.2,-1.0,1.5,0.6,2.5,-0.3,0.4,1.2,-0.7,0.7],
[-0.3,1.1,0.6,-1.1,1.8,0.2,-0.6,1.3,0.4,-0.9,2.2,0.0,0.9,-1.4,0.5,1.6,-0.2,0.7,-1.0,1.2,0.3,-0.5,1.9,-1.2,0.8,0.1,-0.7,1.4,0.6,-1.6,1.0,-0.1,0.4,2.0,-0.8,0.7,-1.3,1.1,0.2,1.7,-0.4,0.5,-1.0,1.3,0.0,-0.6,1.5,0.8,-1.5,0.3,2.4,-0.3,0.9,-0.9,1.2,0.4,-0.2,1.6,-1.2,0.6],
[1.0,-0.4,0.6,-1.2,1.4,0.3,-0.7,1.8,-0.1,0.5,-1.5,1.1,0.2,-0.9,1.6,-0.3,0.8,-1.3,0.4,2.1,-0.6,0.1,1.2,-1.0,0.7,-0.2,1.5,-1.7,0.3,0.9,-0.5,1.3,0.0,-1.1,1.9,0.5,-0.8,0.6,1.4,-1.4,0.2,2.8,1.0,-0.6,0.4,-1.2,1.7,-0.1,0.8,-0.9,1.2,0.3,-1.6,0.7,1.5,-0.4,0.1,-1.0,1.1,0.5],
[-0.2,1.2,0.5,-0.9,1.7,0.1,-1.4,0.8,1.3,-0.5,0.3,2.0,-1.1,0.6,1.0,-0.3,1.5,-1.7,0.4,0.9,-0.6,1.4,0.0,2.8,0.7,-1.2,1.1,0.2,-0.8,1.6,0.4,-1.3,0.9,-0.1,1.8,-0.7,0.5,1.2,-1.5,0.3,0.8,-0.4,1.5,-1.0,0.6,0.0,1.3,-1.8,0.9,0.2,-0.5,1.1,-1.1,0.4,1.9,-0.2,0.6,-1.4,1.0,0.3],
[0.4,-0.9,-1.5,0.6,-0.3,1.1,-1.2,-0.6,0.3,-1.8,0.8,-0.2,-1.0,1.3,-0.7,-1.4,0.2,0.9,-1.1,-0.4,1.2,-2.0,0.0,-0.8,0.6,-1.3,1.0,-0.5,-1.7,0.3,-0.1,1.4,-1.0,-0.6,0.7,-2.3,-0.3,0.5,-1.2,1.1,-0.8,0.1,-1.6,0.8,-0.4,-1.1,1.3,-0.2,-1.9,0.4,-0.7,0.9,-1.3,0.0,-0.5,1.0,-1.5,-0.1,0.6,-1.0],
[-0.5,0.8,0.2,-1.3,1.2,-0.6,0.4,-1.1,1.7,0.0,-0.8,1.0,-1.5,0.6,-0.2,1.4,-0.9,0.3,-1.7,1.1,0.5,-0.4,1.9,-1.2,0.1,0.7,-1.0,1.3,-0.3,-1.4,0.9,0.2,-0.7,1.6,-1.1,0.4,-0.1,1.2,-1.6,0.6,-0.5,1.5,0.0,-1.3,0.8,-0.2,1.0,-0.9,0.3,-1.8,1.3,0.5,-0.6,1.1,-1.0,0.2,0.9,-1.2,0.4,-0.3],
[1.5,-0.5,0.3,2.2,0.9,-1.0,1.3,0.1,2.5,0.6,-0.7,1.7,0.2,-1.3,1.1,0.8,-0.2,1.9,-0.9,0.4,1.4,0.0,-1.4,1.0,0.6,2.1,-0.4,0.9,1.5,-1.1,0.3,1.2,-0.6,0.7,2.0,-0.2,1.1,-1.5,0.5,1.6,0.2,-0.8,1.3,0.7,-1.2,1.8,0.0,0.9,-0.5,1.4,0.4,-1.0,2.3,0.1,-0.3,1.2,0.8,-1.3,0.6,1.0],
[1.3,0.2,-0.8,2.0,0.7,1.5,-0.3,0.9,2.4,-0.9,1.1,0.4,1.8,-0.5,0.6,2.2,1.0,-1.1,0.3,1.6,0.8,-0.7,1.9,0.5,-0.2,1.3,2.6,0.1,-1.0,1.2,0.6,1.7,-0.6,0.9,0.2,2.1,-0.4,1.0,1.5,-1.3,0.7,0.3,1.8,-0.1,1.1,-0.8,0.5,2.3,0.9,-0.5,1.4,0.0,1.0,-1.2,1.6,0.4,0.8,-0.3,1.3,0.6],
[-0.5,0.9,0.3,-1.1,1.3,-0.2,0.6,-1.4,1.0,0.1,-0.7,1.6,-0.4,0.4,-1.2,0.8,1.4,-0.6,0.0,-1.7,1.1,0.5,-0.3,1.2,-1.0,0.7,-0.5,1.9,-0.1,-1.3,0.6,0.2,-0.8,1.5,-0.4,0.9,-1.5,0.3,1.2,-0.2,-0.9,0.7,1.1,-1.2,0.4,-0.6,1.4,0.0,-1.1,0.8,0.3,-0.4,1.6,-1.4,0.5,-0.1,1.0,-0.8,0.2,0.6],
[0.4,-0.9,-0.2,1.0,-1.5,0.3,-0.6,-1.2,0.7,-0.3,1.2,-1.0,-0.5,0.5,-1.7,0.1,0.9,-0.8,-1.3,0.6,-0.2,1.1,-1.4,-0.5,0.3,-1.0,1.4,-0.7,0.0,-1.6,0.8,-0.4,-0.9,1.2,-1.2,0.2,-0.3,0.9,-1.8,0.4,-0.6,1.0,-1.1,-0.1,0.6,-1.4,1.3,-0.5,-0.8,0.7,-1.9,0.1,0.5,-1.1,-0.4,0.8,-1.5,0.2,-0.7,0.4]
];

const upMm = [
[4.7,-2.2,2.0,-0.5,1.8,-3.6,0.4,-1.3,2.6,6.5,-4.0,0.9,10.0,-0.8,1.5,-5.5,3.1,0.2,-4.2,2.4,1.1,-1.8,3.3,0.5,-2.7,1.7,-0.3,2.9,4.1,-1.1,0.8,3.5,-3.9,1.4,-0.6,2.2,0.0,-2.3,3.0,1.9,-1.5,0.7,2.6,-0.9,6.0,-3.2,1.2,-4.6,2.8,0.3,-1.4,4.2,1.6,-0.2,2.3,-2.6,0.9,5.1,-1.0,1.8],
[2.1,-0.4,3.4,-2.0,1.0,4.8,-7.8,0.6,2.5,-1.6,5.2,0.2,-3.3,1.9,3.7,-0.8,2.8,-2.6,1.3,0.4,4.4,-1.2,2.0,-4.1,0.9,3.0,-0.1,1.6,5.8,-2.9,0.7,2.3,-1.7,3.9,-5.3,1.2,0.0,2.7,-0.9,4.6,1.5,-2.2,0.8,3.2,-3.8,1.8,-0.5,2.4,6.6,-1.3,0.3,3.1,-2.5,1.4,-0.7,2.2,4.0,-3.0,1.0,0.5],
[0.9,-2.4,3.0,1.3,-1.0,4.3,-3.5,0.2,2.1,-0.6,3.6,-4.4,1.5,0.0,2.8,-1.9,5.0,-0.3,1.1,-2.8,3.3,0.6,-1.4,2.4,-5.8,1.8,0.4,-0.9,4.1,-2.1,0.8,2.6,-3.1,1.4,-0.2,3.8,7.0,-1.5,0.5,2.2,-4.7,1.0,3.5,-0.7,-2.6,1.7,4.8,-1.2,0.3,2.9,-3.7,1.2,0.1,-1.8,3.1,-0.4,5.5,-2.3,0.7,1.9],
[1.6,-1.1,3.2,0.3,-3.0,2.4,-0.5,4.5,-2.2,1.0,0.1,-4.1,-7.3,2.7,-0.8,1.3,3.9,-1.9,-7.6,0.7,2.1,-3.4,1.5,5.8,-0.3,0.9,-2.5,3.0,1.8,-1.4,7.2,0.4,-4.8,2.5,-0.1,1.2,-2.0,3.6,0.6,-5.0,1.9,-0.6,4.2,-1.6,2.3,0.0,-3.1,1.4,3.3,-0.9,0.8,-2.7,2.0,4.7,-1.3,0.5,-3.8,2.8,-0.4,1.1],
[0.8,-2.1,2.9,-0.7,1.5,-3.6,4.0,0.2,-1.2,2.3,-4.2,1.1,3.4,-0.3,0.6,-2.8,2.0,5.3,-1.0,0.4,-3.3,1.8,-0.1,3.0,-1.7,0.9,2.5,-4.6,1.3,0.0,-0.9,3.7,-2.4,1.6,0.3,-1.5,2.7,-3.0,4.9,0.5,-0.6,1.9,-2.0,3.2,0.1,-4.0,2.2,-1.1,1.0,5.6,-2.6,0.7,-0.2,2.6,-3.5,1.4,0.0,3.8,-1.8,6.8],
[1.2,-1.6,2.8,6.4,-0.4,3.0,-2.9,0.7,1.9,-3.8,0.3,4.1,-1.0,2.2,-0.6,-4.4,1.4,3.5,-2.1,0.5,2.6,-0.2,-3.3,1.7,4.6,-1.3,0.0,2.3,-5.1,1.0,3.2,-0.9,-2.4,1.8,0.6,-1.7,4.3,-3.6,2.0,0.2,-0.8,3.4,-4.7,1.3,-0.3,2.9,-1.9,5.0,0.4,-2.7,-8.9,1.5,-0.5,3.1,5.7,-2.2,0.9,-1.1,2.4,-3.1],
[0.4,-2.3,1.9,-0.7,3.1,-3.9,0.8,-1.4,2.5,0.1,-4.5,1.3,3.8,-0.9,-2.0,1.6,0.3,-3.2,4.4,-1.1,0.6,2.2,-5.2,-0.3,1.0,3.3,-1.8,0.0,2.6,-3.5,1.4,-0.5,4.7,-2.6,0.9,-1.2,2.0,-4.0,0.2,3.6,-0.8,1.2,-2.9,0.5,-6.0,2.8,-1.5,0.7,3.9,-0.2,-3.7,1.8,0.1,-1.0,2.4,-4.3,1.1,5.4,-2.2,0.3],
[1.0,-2.5,2.7,0.3,-1.2,4.0,-3.0,1.5,0.0,2.2,-4.1,1.1,3.4,-0.8,0.6,-2.2,5.0,-1.6,1.9,0.2,-3.4,2.8,0.7,-0.5,3.7,-2.7,1.3,-1.0,4.5,0.4,-3.8,2.0,-0.3,1.6,3.1,-7.8,0.9,-1.9,2.5,-0.6,4.8,-2.9,1.2,0.1,-1.4,3.3,-4.5,2.1,0.5,5.6,-0.9,1.7,-2.3,3.0,-0.2,-3.6,2.4,6.2,0.8,-1.3],
[2.6,-1.8,4.3,0.9,-3.2,5.6,1.7,-0.6,3.9,-4.0,2.2,11.3,0.5,-2.7,-11.0,6.1,1.0,-5.3,3.4,-0.9,7.2,2.5,-3.6,4.8,0.2,-6.2,9.4,11.4,1.4,-4.7,-8.5,5.3,2.9,-1.5,8.6,0.7,-6.8,3.7,9.0,-2.4,6.4,12.0,1.8,-5.7,4.2,-1.1,7.8,0.3,-4.3,2.7,5.9,-7.2,-10.0,3.1,-0.4,6.5,-3.0,1.6,4.5,-1.9],
[1.9,-2.2,3.5,0.6,-1.0,4.6,-3.4,2.3,0.1,5.5,-1.6,1.2,3.0,-4.1,0.8,2.6,-0.5,1.5,-2.6,6.3,0.4,-1.3,3.8,1.0,-3.0,2.1,-0.2,4.2,-5.0,1.7,0.3,2.9,-1.9,0.9,7.5,-0.8,3.3,-2.4,1.4,0.0,4.9,-3.7,2.0,-1.1,1.1,3.6,-0.4,-2.0,2.7,0.5,-4.4,1.8,5.2,-0.6,2.4,-2.8,0.7,3.1,-1.5,1.3],
[0.7,-1.7,2.8,1.2,-3.1,3.9,0.2,-0.9,2.2,-2.5,4.5,0.6,-1.3,1.7,3.2,-4.0,0.9,-0.4,2.5,-2.0,5.3,1.1,-3.5,0.3,2.0,-1.1,3.6,-0.6,1.4,-4.8,2.7,0.0,-2.2,1.9,4.1,-7.1,0.8,-1.5,3.0,0.4,-2.9,1.6,-0.2,3.4,-3.8,1.0,5.9,-1.2,0.5,2.4,-0.8,-3.3,1.3,3.7,-1.9,0.1,2.9,-4.3,1.5,7.5],
[0.3,-2.4,1.8,-0.6,3.3,-3.7,1.0,0.2,-1.5,2.6,-4.4,0.7,2.9,-0.9,1.5,-2.8,7.2,-0.1,-3.3,1.2,7.7,0.5,-9.6,2.1,-1.2,3.8,-0.4,0.9,-2.1,4.3,-5.0,1.4,0.0,-1.8,2.4,-3.4,0.6,3.1,-0.7,1.7,-4.6,0.4,2.2,-2.5,5.1,-1.0,0.8,-3.1,-7.8,1.9,-0.3,3.5,-2.2,0.1,1.3,-4.0,2.7,-0.8,0.6,-1.4],
[1.1,-1.9,2.4,-0.4,3.6,-2.7,0.5,-1.3,2.0,0.0,-7.5,1.6,-3.4,2.9,0.3,-1.0,4.2,-2.2,0.8,-4.5,1.3,3.0,-0.6,-2.9,1.9,0.2,-1.6,4.9,-3.9,0.6,2.3,-0.9,1.0,-2.4,3.4,-5.4,0.4,1.7,-1.2,2.7,-0.3,-3.6,1.4,4.4,-1.7,0.1,-2.6,2.2,0.9,-4.1,3.3,-0.5,1.5,-1.4,5.8,-2.0,0.7,-3.2,2.5,-0.2],
[-0.5,2.1,-2.8,1.3,0.2,-1.6,3.7,-3.6,0.9,-0.2,2.6,-4.7,1.5,-1.1,4.0,0.4,-2.3,1.8,-0.7,3.1,-3.9,0.6,2.4,-1.4,0.0,-5.6,1.9,3.5,-0.9,-2.5,1.1,-7.0,2.8,0.3,-1.9,4.6,-3.0,0.8,1.6,-0.4,-4.2,2.3,0.1,3.3,-2.0,-1.2,1.4,5.2,-3.5,0.5,2.0,-0.8,-2.7,1.0,3.9,-1.5,0.2,-4.9,2.6,0.7],
[1.4,-2.0,3.1,0.6,-1.2,4.2,-3.4,1.8,0.2,2.7,-4.5,0.9,-0.5,3.6,1.3,-2.6,2.2,-0.8,5.0,-3.9,1.0,0.4,2.9,-1.7,-5.2,1.6,3.8,0.0,-2.3,2.4,-0.3,4.7,-3.0,1.2,0.7,-1.4,-8.0,9.3,2.0,-0.6,3.3,-4.1,0.8,1.9,-2.8,5.4,0.3,-1.0,2.6,-3.6,1.5,-0.2,4.3,-2.4,8.0,0.5,-5.6,2.1,1.1,-1.3],
[-0.4,2.3,-2.7,1.1,0.3,-1.8,3.5,-3.8,0.7,1.9,-0.9,4.1,-4.6,1.4,-0.2,2.6,-2.1,0.5,3.2,-5.3,1.0,-1.3,2.0,0.1,-3.2,4.4,-0.6,1.7,-2.4,0.8,3.7,-7.0,0.2,2.5,-1.5,1.3,-3.6,4.8,-0.3,0.9,-2.0,2.8,-4.2,1.5,0.0,-1.1,3.0,-2.9,1.2,5.1,-0.7,-3.4,2.2,0.4,-1.9,3.4,-4.0,1.6,-0.5,2.1],
[0.6,-2.9,1.7,-1.0,3.2,-4.1,0.1,-1.8,2.5,-3.3,1.2,-0.4,4.0,-5.0,0.8,-2.2,2.0,-0.6,-3.7,1.5,3.6,-1.3,0.3,-4.5,2.3,-0.8,1.0,-2.6,6.5,-1.7,0.5,-3.9,1.9,0.0,-7.8,2.8,-1.1,1.4,-2.4,3.8,-0.2,-4.8,1.1,2.6,-1.5,0.7,-3.0,4.5,-0.9,-2.0,1.6,0.2,-5.5,2.2,-0.5,3.0,-2.7,0.9,-1.4,1.8],
[1.0,-2.1,2.6,-0.5,3.9,-3.4,0.8,-1.2,1.9,-4.3,0.4,2.9,-1.7,0.0,4.6,-2.8,1.3,-0.9,2.2,-5.1,1.5,3.4,-0.3,-2.4,0.9,6.5,-1.6,1.8,-3.6,0.2,-8.4,2.7,-0.7,1.2,-2.9,4.0,-4.2,0.6,2.1,-1.3,3.0,-0.1,-3.1,1.6,5.2,-2.0,0.3,-4.6,2.4,-0.8,1.1,3.6,-2.6,0.5,-1.4,2.0,-5.8,1.4,0.7,-0.4],
[-0.6,1.8,-2.9,0.5,3.1,-1.9,-4.0,1.2,0.2,-2.5,4.2,-1.1,0.7,-3.4,2.3,-0.3,7.0,-4.7,1.0,-1.6,2.7,0.1,-2.2,3.5,-5.6,0.9,-0.7,1.6,-3.0,4.6,-1.4,0.3,-7.1,2.0,-0.2,1.3,-3.8,2.9,-0.9,0.6,-2.6,5.1,-1.8,0.0,1.5,-4.4,2.4,-0.5,-1.3,3.3,-3.3,0.8,1.9,-0.8,-5.0,2.6,0.4,-2.0,1.1,3.7],
[0.4,-2.3,2.1,-0.8,1.3,-3.5,4.3,0.0,-1.5,2.8,-4.4,1.0,8.0,-0.5,0.7,-2.7,3.2,-1.1,1.6,-5.4,0.3,2.5,-0.2,-3.2,4.8,-1.8,0.9,-0.6,2.0,-4.0,1.4,3.7,-2.4,0.1,-1.0,5.5,-3.0,0.6,1.8,-1.9,2.9,-0.4,-4.9,1.2,0.5,3.4,-2.1,-0.9,6.1,1.7,-3.7,0.2,2.3,-1.4,4.0,-0.7,-2.8,1.5,0.8,2.6],
[1.6,-2.4,11.2,0.8,3.5,-1.3,-11.4,2.2,4.6,-3.1,0.5,5.9,-0.9,2.8,-4.2,1.4,6.8,-2.0,3.3,0.2,-5.1,4.0,1.1,-1.6,7.5,-3.6,2.5,10.0,0.7,-2.8,5.2,1.9,-0.4,8.2,-4.7,3.0,6.3,-1.2,0.6,7.4,2.4,-3.3,4.9,-0.7,11.1,1.3,-5.8,3.8,0.0,5.6,-2.5,2.0,-9.5,4.3,-1.8,0.9,6.0,-4.4,-11.0,2.7],
[-0.8,3.2,-3.5,0.5,-2.2,6.5,-4.6,1.2,-1.4,7.2,10.5,-3.1,0.4,-2.0,2.8,-5.6,-0.6,1.6,-3.8,4.4,-1.2,-2.6,0.9,-4.3,2.1,-0.3,-1.8,3.6,-5.0,-0.9,1.3,-3.2,0.0,5.1,-2.4,-1.1,2.3,-4.8,0.6,-0.4,-2.9,1.8,-6.7,3.0,-1.5,0.2,-3.6,2.5,-0.7,-5.4,1.1,-2.1,4.1,-1.0,-3.9,0.8,-0.2,2.9,-4.4,-1.6],
[-1.3,1.9,-3.4,0.3,-2.1,3.5,-4.6,-0.5,1.2,-2.8,-0.2,4.0,-5.2,0.7,-1.6,2.4,-3.9,-0.9,1.5,-6.1,0.2,-2.4,3.0,-1.0,-4.4,1.7,-0.4,-2.9,2.6,-5.5,0.6,-1.3,-3.3,3.8,-0.7,0.9,-2.2,-4.1,1.4,-1.8,2.1,-3.0,-0.1,4.6,-2.6,-7.0,1.0,-1.1,-3.7,2.8,-0.6,0.4,-4.9,1.9,-2.3,-0.3,3.3,-1.5,-3.6,0.8],
[-0.9,2.2,-3.2,0.4,-1.9,3.3,-4.5,1.0,-0.6,-2.8,2.5,-5.3,0.1,-1.4,3.8,-3.5,0.6,-0.2,-4.1,1.6,-11.5,-2.0,2.9,-0.8,7.0,-3.8,1.2,-1.1,4.2,-2.4,0.3,-4.9,1.9,3.6,-0.5,-2.2,2.4,-0.9,4.8,-1.6,1.1,5.6,-0.3,2.0,-2.6,3.0,0.5,-1.4,7.4,1.7,-0.7,2.6,4.5,-1.8,0.9,3.4,-3.0,1.5,0.2,2.8]
];

const upMmHalf = [
[-0.8,3.8,1.4,-2.9,2.5,0.6,5.2,-1.7,1.0,3.3,-0.4,2.2,-3.5,0.9,4.6,1.6,-1.2,2.9,0.2,-4.4,1.8,3.6,-0.6,0.4,2.7,-2.1,1.3,5.7,0.0,-1.5,3.1,1.1,-3.0,2.0,4.3,-0.2,0.7,-2.4,3.9,1.5,-0.9,2.4,-5.0,1.2,0.3,3.4,-1.9,2.1,0.8,-0.5,4.0,1.7,-2.8,0.5,2.6,-1.1,3.5,0.1,-3.6,2.3],
[3.0,-1.4,0.8,2.6,-3.6,1.9,0.2,4.2,-0.7,2.3,-2.0,1.1,5.5,-1.1,0.4,3.1,-4.6,1.5,2.7,-0.3,0.9,-2.4,4.0,1.7,-1.5,2.2,0.0,3.4,-3.0,1.3,6.1,-0.9,2.5,0.6,-2.2,1.8,3.7,-0.5,0.9,-4.0,2.8,1.4,-1.0,4.5,0.3,-2.7,2.0,1.0,-0.2,3.3,-1.8,0.7,2.9,-3.3,1.6,5.0,-0.6,2.1,-1.3,0.4],
[-1.6,2.0,0.7,-3.2,3.4,1.2,-0.4,2.6,-2.3,0.3,4.7,-1.3,1.6,-4.0,2.3,0.5,-0.9,3.7,-2.7,1.1,0.0,2.9,-3.8,0.8,1.9,-1.1,4.4,-0.2,2.1,-2.5,1.4,0.4,-5.2,2.7,-0.6,1.0,3.2,-1.9,0.6,-3.4,2.4,5.8,-0.8,1.3,-1.5,3.0,-0.3,-2.9,1.7,0.9,-4.2,2.2,0.1,3.9,-1.0,1.5,-2.2,0.6,4.1,-0.5],
[2.2,-0.7,0.5,3.6,-2.6,1.4,-4.5,2.0,0.8,-1.2,3.3,-0.2,1.7,-5.6,0.6,2.6,-1.5,4.4,0.2,-3.3,1.9,-0.6,3.0,-2.1,1.2,6.2,-0.9,0.4,-3.9,2.3,1.0,-1.7,4.0,0.1,-2.4,2.9,-0.4,1.5,-4.2,3.5,0.7,-1.1,2.1,-2.9,1.3,5.1,-0.1,-3.5,2.5,0.3,-1.4,3.8,-2.2,1.1,0.0,-4.7,2.7,0.9,-1.8,3.2],
[-1.0,3.1,0.4,-2.5,1.8,4.4,-0.6,1.2,-3.7,2.6,0.0,-1.4,3.5,1.0,-4.8,2.1,-0.3,1.6,6.0,-2.0,0.8,-3.1,2.9,0.3,-1.2,4.1,-0.5,1.4,-2.6,3.3,0.7,-5.4,2.2,0.1,-1.8,3.9,1.1,-0.8,2.5,-3.4,1.5,0.5,-2.1,4.6,-0.2,1.9,-4.3,0.6,3.0,-1.5,2.3,-0.7,1.0,-2.9,5.2,0.2,-1.1,2.7,-3.8,1.3],
[2.5,-3.4,0.9,-0.5,3.7,-1.9,1.4,-4.6,2.2,0.3,5.4,-2.3,0.8,-1.1,2.9,-3.7,1.6,0.0,4.2,-1.4,-5.6,1.0,2.4,-0.8,3.3,-2.6,0.5,1.8,-4.1,2.7,0.1,-1.6,3.9,-0.3,1.2,-3.0,2.0,5.0,-1.2,0.6,-2.5,3.5,0.2,-4.4,1.7,-0.7,2.8,-2.0,0.4,3.1,-6.3,1.3,-0.4,2.2,-3.2,4.5,0.7,-1.5,1.9,-0.2],
[-1.7,2.6,0.3,-3.6,1.5,-0.4,4.1,-2.4,0.9,-1.1,3.0,-4.8,0.6,2.0,-2.1,0.0,3.6,-1.4,-5.5,1.8,0.4,-2.7,2.9,-0.6,1.2,-3.9,4.6,0.2,-1.6,2.3,-3.1,0.8,-0.2,3.4,-4.4,1.5,0.1,-2.3,2.6,-0.9,5.1,-3.3,0.7,1.4,-1.9,-0.5,3.2,-4.1,1.0,2.2,-2.6,0.3,-1.2,4.0,-3.5,0.6,1.7,-0.8,2.5,-2.0],
[2.4,-0.8,3.6,-2.1,1.1,-4.3,2.0,0.4,-1.6,3.1,0.7,-3.0,4.8,-0.5,1.5,2.6,-2.6,0.2,3.9,-1.3,1.0,-5.2,2.3,0.6,-0.9,3.4,-3.6,1.7,0.0,5.3,-1.1,2.1,-2.4,0.8,-4.0,2.9,1.3,-0.3,3.5,-2.0,0.5,4.2,-1.5,1.9,-3.3,0.9,2.7,-0.6,-2.8,1.6,3.8,-1.0,0.3,-4.6,2.5,1.2,-1.9,4.4,0.6,-0.4],
[4.7,-2.3,1.5,8.1,-4.5,3.0,0.4,-7.8,5.9,2.1,-1.2,9.7,3.5,-3.4,0.9,6.8,-5.8,2.4,7.5,-2.0,4.1,-8.9,1.2,5.5,-3.9,8.7,0.6,-2.6,6.0,3.2,-5.1,10.3,1.9,-4.0,7.1,-1.4,4.6,-7.4,2.8,8.4,-0.8,5.2,-3.2,1.0,9.1,-6.5,3.6,0.2,-2.9,6.6,-4.6,2.3,7.0,-1.7,0.5,4.8,-3.7,2.0,-0.9,3.3],
[-1.3,3.2,0.9,-3.6,2.6,5.0,-0.7,1.7,-2.4,3.9,0.2,-4.5,2.4,1.1,-1.5,4.4,-0.3,2.8,-3.2,1.4,6.0,-1.9,0.6,3.5,-2.7,1.9,0.0,4.7,-4.1,2.2,1.0,-0.9,3.0,-2.2,5.6,0.5,-1.4,2.5,-3.8,1.6,3.7,-0.4,0.8,-2.8,4.1,1.3,-5.3,2.0,0.3,3.3,-1.6,2.7,-0.1,-3.4,4.8,1.2,-2.0,0.4,2.9,-1.1],
[2.9,-0.8,1.5,-3.6,4.0,0.6,-2.2,2.4,-0.3,-5.1,3.1,1.0,-1.5,4.6,-2.7,0.8,2.0,-4.2,1.3,-0.6,3.6,0.3,-2.5,5.2,-1.0,1.8,-3.3,2.7,0.1,-1.8,4.3,-0.5,1.1,-6.0,2.5,0.4,-1.2,3.8,-3.0,1.5,0.0,-2.1,4.9,1.0,-4.4,2.2,-0.7,3.3,0.6,-2.4,1.7,6.3,-1.4,0.2,-3.5,2.8,0.9,-1.8,4.1,-0.4],
[-1.2,2.7,-3.1,0.5,1.6,-4.2,3.2,-0.5,-1.9,2.2,0.8,-3.6,4.5,-1.3,0.3,-2.4,3.6,1.1,-5.2,0.7,-0.8,6.2,-2.6,1.4,0.0,-3.4,2.5,-1.0,4.1,-0.3,-6.1,1.8,0.6,-2.2,3.0,-0.7,1.2,-4.5,2.4,0.2,-1.5,5.4,-3.0,0.9,-0.4,2.9,-2.0,1.5,-5.7,0.4,3.4,-1.6,-0.2,2.1,-3.8,1.0,4.6,-2.4,0.3,-0.9],
[2.3,-0.6,-3.0,1.4,0.2,-4.8,3.1,-1.4,0.7,2.6,-2.2,-0.3,4.0,-3.5,1.1,-1.1,2.4,-0.2,-5.9,1.6,3.5,-2.5,0.4,-1.0,4.7,-3.1,0.9,1.9,-1.8,-4.3,2.8,0.0,-0.7,3.3,-2.6,1.2,-5.1,0.6,2.0,-1.3,3.8,-0.4,-3.3,1.5,0.3,-2.1,5.2,-0.9,1.0,-3.8,2.6,-1.5,0.1,3.6,-4.5,0.8,1.7,-2.8,0.5,-0.1],
[1.6,-3.3,0.4,2.5,-1.2,-4.4,3.0,0.6,-2.2,1.3,4.5,-1.8,-0.5,2.2,-3.3,0.9,-6.2,1.7,3.3,-0.8,0.2,-2.7,4.2,-1.5,1.2,-3.8,2.6,0.5,-1.0,5.5,-2.4,0.0,1.8,-4.6,2.9,-0.3,-1.7,3.7,0.7,-3.1,1.1,-0.6,4.3,-2.0,0.4,-5.0,2.1,1.4,-1.3,3.5,-2.9,0.8,-0.4,2.7,-4.0,1.9,0.3,-1.9,3.1,-0.7],
[-1.5,2.8,1.0,-3.2,4.5,0.3,-1.0,2.2,-4.7,1.5,3.6,-0.4,-2.4,1.1,5.6,-1.6,0.5,-3.6,2.6,1.9,-0.9,4.0,-2.1,0.7,-6.4,2.3,1.2,-1.3,3.9,0.0,-2.8,1.6,6.8,-0.6,2.4,-4.0,1.0,-7.2,3.4,0.9,-1.8,4.9,-0.3,2.0,-3.1,1.3,0.4,-1.1,3.1,-4.4,2.5,0.6,-2.0,5.8,1.1,-0.7,3.7,-3.4,0.8,1.7],
[1.8,-3.0,0.5,2.9,-1.5,-4.0,2.2,0.8,-2.6,3.9,-0.8,1.3,-5.5,2.0,0.4,-1.7,3.5,-0.2,-3.4,1.6,4.6,-2.2,0.1,-1.3,2.7,-4.5,1.1,0.6,-2.0,3.2,-0.6,5.3,-3.9,0.9,-1.0,2.4,-2.8,1.4,0.0,-5.8,2.6,1.2,-1.5,3.7,-0.4,-2.5,1.8,4.2,-3.1,0.3,-0.9,2.3,-4.3,1.0,3.0,-1.8,0.6,-2.7,1.5,-0.2],
[-2.2,0.9,3.5,-1.5,-4.3,1.3,0.2,-2.9,2.6,-0.6,-5.1,1.8,-1.0,3.3,0.4,-3.5,1.1,-1.9,4.1,-0.3,-2.6,0.8,-4.6,2.2,0.1,-1.4,3.0,-3.0,0.5,-6.1,1.6,2.4,-0.8,-2.1,0.9,5.1,-3.7,0.3,-1.2,2.0,-4.2,1.0,-0.5,3.6,-2.4,0.6,-6.6,1.9,-0.2,-1.7,2.8,-3.3,0.7,1.4,-2.8,0.0,4.0,-1.3,-3.6,1.2],
[-0.6,2.4,-3.9,1.2,0.4,-2.2,3.7,-1.0,-4.6,1.8,0.6,-1.6,2.9,-3.2,0.2,5.0,-1.1,1.5,-2.6,0.8,-5.4,2.3,-0.4,3.1,1.0,-3.0,0.5,-1.8,4.3,-2.1,1.3,-6.7,0.9,2.6,-0.8,-3.4,1.7,0.3,-2.4,4.4,-1.3,0.7,-4.0,2.0,-0.2,3.4,-2.7,1.1,-1.5,-5.0,2.5,0.4,-1.0,3.8,-2.9,1.4,0.0,-3.7,2.1,0.6],
[1.3,-3.1,0.2,-1.6,2.5,-4.3,0.8,3.6,-1.2,-2.8,1.0,-0.4,4.8,-3.6,0.5,-1.8,2.2,-5.0,1.4,-0.6,3.0,-2.3,0.0,-4.1,1.9,5.6,-1.5,0.6,-3.3,2.4,-0.9,1.2,-5.8,0.3,3.2,-1.9,-0.3,2.0,-3.9,1.1,-1.3,4.1,-2.5,0.4,-0.8,2.7,-4.7,1.6,0.2,-2.1,3.5,-1.1,-3.4,0.9,2.2,-0.5,-2.6,1.3,6.0,-1.4],
[-1.4,2.9,0.5,-3.4,1.6,-0.6,4.7,-2.2,0.9,-4.3,2.4,0.2,-1.7,3.6,-3.0,1.1,6.5,-0.5,-2.5,1.9,0.4,-5.0,3.0,-1.2,1.3,-3.7,2.2,0.7,-0.9,4.1,-2.8,1.5,-6.3,0.6,2.8,-1.5,0.1,-3.3,3.5,1.0,-1.9,2.6,-4.4,0.8,5.2,-0.3,-2.3,1.7,-1.1,3.1,-3.9,0.5,2.0,-0.8,-4.8,2.5,1.2,-2.0,3.8,0.3],
[3.9,-1.6,6.6,0.4,-4.8,2.6,8.7,-2.3,1.3,5.0,-6.4,2.1,-0.7,7.9,1.6,-3.9,4.4,0.2,-7.6,3.2,9.2,-1.1,2.0,-4.3,6.1,0.8,-2.7,4.7,-5.5,1.5,8.9,-0.4,3.5,-6.9,2.2,0.6,5.8,-3.0,1.8,9.7,-1.9,4.0,-8.2,2.9,0.1,6.9,-4.1,1.1,3.6,-2.2,7.7,0.9,-6.0,2.5,5.4,-1.4,3.0,-7.3,1.7,4.3],
[-3.0,0.8,-1.9,4.0,-4.7,-0.3,1.9,-2.6,6.2,-1.4,-5.2,0.4,2.6,-3.4,-0.8,1.4,-6.3,0.2,-2.3,3.4,-1.0,-4.0,1.1,-0.5,5.2,-2.8,-1.3,0.7,-4.5,2.2,-0.2,-3.0,3.1,-1.7,-5.8,0.9,-0.6,2.8,-3.6,-1.2,1.6,-4.9,0.3,-2.0,4.5,-0.9,-3.3,1.3,-1.5,-6.0,2.0,-0.4,-2.5,3.3,-4.1,0.5,-1.1,1.8,-3.2,0.1],
[0.6,-2.7,-4.3,1.3,-0.8,2.7,-3.1,-1.5,0.4,-5.7,1.9,-2.0,-0.3,3.2,-3.8,-1.2,0.9,-4.6,2.3,-0.5,-2.2,1.1,-6.5,-0.9,3.5,-2.9,0.3,-1.7,-4.0,1.6,-0.1,2.8,-3.5,-1.0,0.8,-5.1,1.4,-2.4,-0.6,3.0,-4.4,0.2,-1.4,2.2,-3.0,-0.2,-5.8,1.2,-1.1,2.5,-3.7,0.5,-2.0,-0.7,4.0,-4.2,-1.3,1.0,-2.6,0.0],
[1.4,-2.5,-0.3,3.0,-4.0,0.8,-1.7,2.3,-5.8,-0.6,1.5,-3.1,4.1,-1.2,0.2,-4.6,2.0,-2.2,0.9,-0.4,3.5,-3.4,-1.0,1.7,-7.2,0.4,2.6,-1.9,-0.2,5.0,-3.8,1.2,-0.8,-2.6,3.3,0.6,-4.3,1.9,-0.5,2.8,-2.0,0.1,4.4,-1.4,1.0,-3.0,2.5,6.0,-0.9,1.6,3.7,-2.3,0.7,-1.3,4.9,0.3,-2.7,2.1,1.1,-0.6]
];

const panelTitles = ["Baseline Distance = 0.041 mm", "Baseline Distance = 0.029 mm", "Baseline Distance = 0.18 mm"];
const panelLabels = ["North (mm)", "East (mm)", "Up (mm)"];
const xTicks = [0, 5, 10, 15, 20];
const yTicks = [-20, -10, 0, 10, 20];

function drawChart() {
    const width = 1827, height = 1182;
    const left = 161, right = 1825, plotH = 252.5;
    const tops = [91, 477, 863];
    const tickLen = 16;

    const svg = d3.select("svg")
        .attr("width", width)
        .attr("height", height);

    const x = d3.scaleLinear().domain([-0.08, 24.08]).range([left, right]);

    const panels = [[northMm, northMmHalf], [eastMm, eastMmHalf], [upMm, upMmHalf]];

    panels.forEach(([full, half], p) => {
        const top = tops[p];
        const y = d3.scaleLinear().domain([-20, 20]).range([top + plotH, top]);
        const g = svg.append("g");

        // epoch time in hours: hour row + position of the sample inside it
        const toPoints = (rows, offset) => rows.flatMap((row, h) =>
            row.map((v, j) => ({ t: h + (j + offset) / row.length, v })));
        const points = toPoints(full, 0).concat(toPoints(half, 0.5));

        g.append("g").selectAll("circle")
            .data(points)
            .enter().append("circle")
            .attr("cx", d => x(d.t))
            .attr("cy", d => y(d.v))
            .attr("r", 2.4)
            .attr("fill", "#0000ff");

        const styleAxis = sel => {
            sel.attr("font-family", '"Liberation Sans", Arial, sans-serif')
                .attr("font-size", 28)
                .attr("color", "#555");
            sel.select(".domain").remove();
            sel.selectAll("line").attr("stroke-width", 1.4);
            sel.selectAll("text").attr("fill", "#222");
        };

        g.append("g")
            .attr("transform", `translate(0,${top + plotH})`)
            .call(d3.axisBottom(x).tickValues(xTicks).tickSizeInner(-tickLen).tickSizeOuter(0).tickPadding(15))
            .call(styleAxis);

        g.append("g")
            .attr("transform", `translate(0,${top})`)
            .call(d3.axisTop(x).tickValues(xTicks).tickSizeInner(-tickLen).tickSizeOuter(0).tickFormat(""))
            .call(styleAxis);

        g.append("g")
            .attr("transform", `translate(${left},0)`)
            .call(d3.axisLeft(y).tickValues(yTicks).tickSizeInner(-tickLen).tickSizeOuter(0).tickPadding(7))
            .call(styleAxis);

        g.append("g")
            .attr("transform", `translate(${right},0)`)
            .call(d3.axisRight(y).tickValues(yTicks).tickSizeInner(-tickLen).tickSizeOuter(0).tickFormat(""))
            .call(styleAxis);

        // axes box
        g.append("rect")
            .attr("x", left)
            .attr("y", top)
            .attr("width", right - left)
            .attr("height", plotH)
            .attr("fill", "none")
            .attr("stroke", "#333")
            .attr("stroke-width", 1.6);

        g.append("text")
            .attr("x", 1007)
            .attr("y", top - 24.5)
            .attr("text-anchor", "middle")
            .attr("font-size", 34)
            .attr("fill", "#111")
            .text(panelTitles[p]);

        g.append("text")
            .attr("transform", `translate(88,${top + plotH / 2 + 4}) rotate(-90)`)
            .attr("text-anchor", "middle")
            .attr("font-size", 33)
            .attr("fill", "#111")
            .text(panelLabels[p]);
    });

    svg.append("text")
        .attr("x", 988)
        .attr("y", 1184)
        .attr("text-anchor", "middle")
        .attr("font-size", 33)
        .attr("fill", "#111")
        .text("hours");
}

drawChart();
</script>
</body>
</html>
